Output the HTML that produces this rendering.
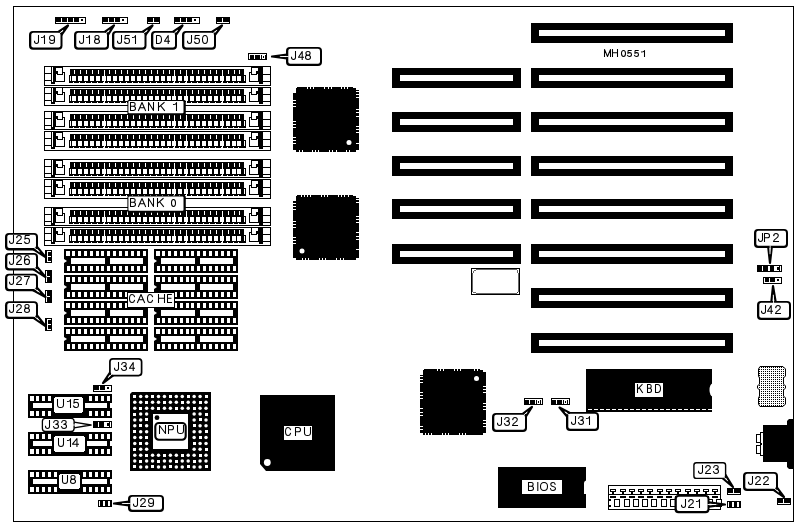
<!DOCTYPE html>
<html><head><meta charset="utf-8"><title>MH0551</title>
<style>
html,body{margin:0;padding:0;background:#fff;}
svg{display:block;}
text{font-family:"Liberation Sans",sans-serif;fill:#000;}
rect{shape-rendering:crispEdges;}
</style></head><body>
<svg width="799" height="527" viewBox="0 0 799 527">
<defs><pattern id="dots" x="0" y="0" width="2" height="2" patternUnits="userSpaceOnUse"><rect x="0" y="0" width="2" height="2" fill="#fff"/><rect x="1" y="1" width="1" height="1" fill="#000"/></pattern></defs>
<rect x="0" y="0" width="799" height="527" fill="#fff"/>
<rect x="13.5" y="6.5" width="780" height="515" fill="none" stroke="#000" stroke-width="1"/>
<rect x="55" y="17" width="31" height="7" fill="#000" />
<rect x="56" y="22" width="29" height="1" fill="#fff" />
<rect x="61" y="18" width="1" height="4" fill="#fff" />
<rect x="67" y="18" width="1" height="4" fill="#fff" />
<rect x="73" y="18" width="1" height="4" fill="#fff" />
<rect x="79" y="18" width="1" height="4" fill="#fff" />
<rect x="80" y="18" width="5" height="4" fill="#fff" />
<rect x="81" y="19" width="2" height="2" fill="#000" />
<rect x="102" y="17" width="26" height="7" fill="#000" />
<rect x="103" y="22" width="24" height="1" fill="#fff" />
<rect x="108" y="18" width="1" height="4" fill="#fff" />
<rect x="114" y="18" width="1" height="4" fill="#fff" />
<rect x="120" y="18" width="1" height="4" fill="#fff" />
<rect x="121" y="18" width="6" height="4" fill="#fff" />
<rect x="122" y="19" width="2" height="2" fill="#000" />
<rect x="147" y="17" width="13" height="7" fill="#000" />
<rect x="148" y="22" width="11" height="1" fill="#fff" />
<rect x="153" y="18" width="1" height="4" fill="#fff" />
<rect x="174" y="17" width="26" height="7" fill="#000" />
<rect x="175" y="22" width="24" height="1" fill="#fff" />
<rect x="180" y="18" width="1" height="4" fill="#fff" />
<rect x="186" y="18" width="1" height="4" fill="#fff" />
<rect x="192" y="18" width="1" height="4" fill="#fff" />
<rect x="193" y="18" width="6" height="4" fill="#fff" />
<rect x="194" y="19" width="2" height="2" fill="#000" />
<rect x="216" y="17" width="14" height="7" fill="#000" />
<rect x="217" y="22" width="12" height="1" fill="#fff" />
<rect x="222" y="18" width="1" height="4" fill="#fff" />
<path d="M57.20,32.63 L68,25.5 L60.80,35.87" fill="#fff" stroke="#000" stroke-width="2.2" stroke-linejoin="round" stroke-linecap="round"/>
<rect x="29" y="31" width="33.5" height="18.7" rx="4" ry="4" fill="#000" style="shape-rendering:auto"/>
<rect x="31.3" y="32.7" width="29.2" height="14.7" rx="2" ry="2" fill="#fff" style="shape-rendering:auto"/>
<path d="M57.6,34.9 L63.0,30.3" fill="none" stroke="#fff" stroke-width="0.9" />
<path transform="translate(34.50,35.50) scale(0.9524,0.8889)" d="M4.2,0 L4.2,6.8 Q4.2,9 2.1,9 Q0,9 0,6.6" fill="none" stroke="#000" stroke-width="1.05" vector-effect="non-scaling-stroke" stroke-linecap="square" stroke-linejoin="round"/>
<path transform="translate(41.50,35.50) scale(0.9375,0.8889)" d="M0,2.2 L1.6,2.0 Q3.2,1.6 3.2,0 L3.2,9" fill="none" stroke="#000" stroke-width="1.05" vector-effect="non-scaling-stroke" stroke-linecap="square" stroke-linejoin="round"/>
<path transform="translate(49.50,35.50) scale(1.0000,0.8889)" d="M5,3 Q5,0 2.5,0 Q0,0 0,2.9 Q0,5.7 2.5,5.7 Q5,5.7 5,3 L5,6.3 Q5,9 2.5,9 Q0.5,9 0.2,7.4" fill="none" stroke="#000" stroke-width="1.05" vector-effect="non-scaling-stroke" stroke-linecap="square" stroke-linejoin="round"/>
<path d="M103.70,32.63 L114,25.5 L107.30,35.87" fill="#fff" stroke="#000" stroke-width="2.2" stroke-linejoin="round" stroke-linecap="round"/>
<rect x="74" y="31" width="35" height="18.7" rx="4" ry="4" fill="#000" style="shape-rendering:auto"/>
<rect x="76.3" y="32.7" width="30.7" height="14.7" rx="2" ry="2" fill="#fff" style="shape-rendering:auto"/>
<path d="M104.1,34.8 L109.3,30.3" fill="none" stroke="#fff" stroke-width="0.9" />
<path transform="translate(79.50,35.50) scale(0.9524,0.8889)" d="M4.2,0 L4.2,6.8 Q4.2,9 2.1,9 Q0,9 0,6.6" fill="none" stroke="#000" stroke-width="1.05" vector-effect="non-scaling-stroke" stroke-linecap="square" stroke-linejoin="round"/>
<path transform="translate(86.50,35.50) scale(0.9375,0.8889)" d="M0,2.2 L1.6,2.0 Q3.2,1.6 3.2,0 L3.2,9" fill="none" stroke="#000" stroke-width="1.05" vector-effect="non-scaling-stroke" stroke-linecap="square" stroke-linejoin="round"/>
<path transform="translate(94.50,35.50) scale(1.0000,0.8889)" d="M2.5,4.2 Q0.4,4.2 0.4,2.1 Q0.4,0 2.5,0 Q4.6,0 4.6,2.1 Q4.6,4.2 2.5,4.2 Q0,4.2 0,6.6 Q0,9 2.5,9 Q5,9 5,6.6 Q5,4.2 2.5,4.2" fill="none" stroke="#000" stroke-width="1.05" vector-effect="non-scaling-stroke" stroke-linecap="square" stroke-linejoin="round"/>
<path d="M141.20,32.63 L152.5,25.5 L144.80,35.87" fill="#fff" stroke="#000" stroke-width="2.2" stroke-linejoin="round" stroke-linecap="round"/>
<rect x="112" y="31" width="34.5" height="18.7" rx="4" ry="4" fill="#000" style="shape-rendering:auto"/>
<rect x="114.3" y="32.7" width="30.2" height="14.7" rx="2" ry="2" fill="#fff" style="shape-rendering:auto"/>
<path d="M141.6,34.9 L147.3,30.3" fill="none" stroke="#fff" stroke-width="0.9" />
<path transform="translate(117.50,35.50) scale(0.9524,0.8889)" d="M4.2,0 L4.2,6.8 Q4.2,9 2.1,9 Q0,9 0,6.6" fill="none" stroke="#000" stroke-width="1.05" vector-effect="non-scaling-stroke" stroke-linecap="square" stroke-linejoin="round"/>
<path transform="translate(124.50,35.50) scale(1.0000,0.8889)" d="M4.6,0 L0.8,0 L0.4,4.1 Q1.3,3.2 2.6,3.2 Q5,3.2 5,6 Q5,9 2.5,9 Q0.5,9 0,7.3" fill="none" stroke="#000" stroke-width="1.05" vector-effect="non-scaling-stroke" stroke-linecap="square" stroke-linejoin="round"/>
<path transform="translate(132.50,35.50) scale(0.9375,0.8889)" d="M0,2.2 L1.6,2.0 Q3.2,1.6 3.2,0 L3.2,9" fill="none" stroke="#000" stroke-width="1.05" vector-effect="non-scaling-stroke" stroke-linecap="square" stroke-linejoin="round"/>
<path d="M171.70,32.63 L182.5,25.5 L175.30,35.87" fill="#fff" stroke="#000" stroke-width="2.2" stroke-linejoin="round" stroke-linecap="round"/>
<rect x="151" y="31" width="26" height="18.7" rx="4" ry="4" fill="#000" style="shape-rendering:auto"/>
<rect x="153.3" y="32.7" width="21.7" height="14.7" rx="2" ry="2" fill="#fff" style="shape-rendering:auto"/>
<path d="M172.2,35.1 L177.6,30.3" fill="none" stroke="#fff" stroke-width="0.9" />
<path transform="translate(156.50,35.50) scale(0.9259,0.8889)" d="M0,0 L0,9 L2.2,9 Q5.4,9 5.4,4.5 Q5.4,0 2.2,0 Z" fill="none" stroke="#000" stroke-width="1.05" vector-effect="non-scaling-stroke" stroke-linecap="square" stroke-linejoin="round"/>
<path transform="translate(164.50,35.50) scale(0.9259,0.8889)" d="M4,9 L4,0 L0,6.4 L5.4,6.4" fill="none" stroke="#000" stroke-width="1.05" vector-effect="non-scaling-stroke" stroke-linecap="square" stroke-linejoin="round"/>
<path d="M210.70,32.63 L222,25.5 L214.30,35.87" fill="#fff" stroke="#000" stroke-width="2.2" stroke-linejoin="round" stroke-linecap="round"/>
<rect x="182" y="31" width="34" height="18.7" rx="4" ry="4" fill="#000" style="shape-rendering:auto"/>
<rect x="184.3" y="32.7" width="29.7" height="14.7" rx="2" ry="2" fill="#fff" style="shape-rendering:auto"/>
<path d="M211.1,34.9 L216.8,30.3" fill="none" stroke="#fff" stroke-width="0.9" />
<path transform="translate(187.50,35.50) scale(0.9524,0.8889)" d="M4.2,0 L4.2,6.8 Q4.2,9 2.1,9 Q0,9 0,6.6" fill="none" stroke="#000" stroke-width="1.05" vector-effect="non-scaling-stroke" stroke-linecap="square" stroke-linejoin="round"/>
<path transform="translate(194.50,35.50) scale(1.0000,0.8889)" d="M4.6,0 L0.8,0 L0.4,4.1 Q1.3,3.2 2.6,3.2 Q5,3.2 5,6 Q5,9 2.5,9 Q0.5,9 0,7.3" fill="none" stroke="#000" stroke-width="1.05" vector-effect="non-scaling-stroke" stroke-linecap="square" stroke-linejoin="round"/>
<path transform="translate(202.50,35.50) scale(1.0000,0.8889)" d="M2.5,0 Q5,0 5,4.5 Q5,9 2.5,9 Q0,9 0,4.5 Q0,0 2.5,0 Z" fill="none" stroke="#000" stroke-width="1.05" vector-effect="non-scaling-stroke" stroke-linecap="square" stroke-linejoin="round"/>
<rect x="248" y="53" width="19" height="7" fill="#000" />
<rect x="249" y="54" width="17" height="1" fill="#fff" />
<rect x="249" y="54" width="1" height="5" fill="#fff" />
<rect x="254" y="55" width="1" height="4" fill="#fff" />
<rect x="260" y="55" width="1" height="4" fill="#fff" />
<rect x="262" y="55" width="3" height="4" fill="#fff" />
<rect x="263" y="56" width="1" height="2" fill="#000" />
<path d="M287.00,54.70 L272,56.5 L287.00,58.30" fill="#fff" stroke="#000" stroke-width="2.2" stroke-linejoin="round" stroke-linecap="round"/>
<rect x="286" y="47" width="36" height="19" rx="4" ry="4" fill="#000" style="shape-rendering:auto"/>
<rect x="288.3" y="48.7" width="31.7" height="15" rx="2" ry="2" fill="#fff" style="shape-rendering:auto"/>
<path d="M288.5,56.5 L280.2,56.5" fill="none" stroke="#fff" stroke-width="0.9" />
<path transform="translate(291.50,51.50) scale(0.9524,0.8889)" d="M4.2,0 L4.2,6.8 Q4.2,9 2.1,9 Q0,9 0,6.6" fill="none" stroke="#000" stroke-width="1.05" vector-effect="non-scaling-stroke" stroke-linecap="square" stroke-linejoin="round"/>
<path transform="translate(298.50,51.50) scale(0.9259,0.8889)" d="M4,9 L4,0 L0,6.4 L5.4,6.4" fill="none" stroke="#000" stroke-width="1.05" vector-effect="non-scaling-stroke" stroke-linecap="square" stroke-linejoin="round"/>
<path transform="translate(305.50,51.50) scale(1.0000,0.8889)" d="M2.5,4.2 Q0.4,4.2 0.4,2.1 Q0.4,0 2.5,0 Q4.6,0 4.6,2.1 Q4.6,4.2 2.5,4.2 Q0,4.2 0,6.6 Q0,9 2.5,9 Q5,9 5,6.6 Q5,4.2 2.5,4.2" fill="none" stroke="#000" stroke-width="1.05" vector-effect="non-scaling-stroke" stroke-linecap="square" stroke-linejoin="round"/>
<rect x="44" y="66" width="227" height="20" fill="#000" />
<rect x="45" y="67" width="225" height="18" fill="#fff" />
<rect x="51" y="66" width="1" height="18" fill="#000" />
<rect x="44" y="73" width="8" height="1" fill="#000" />
<rect x="44" y="80" width="8" height="1" fill="#000" />
<rect x="53" y="66" width="2" height="17" fill="#000" />
<rect x="51" y="82" width="4" height="2" fill="#000" />
<rect x="55" y="67" width="8" height="1" fill="#000" />
<rect x="62" y="67" width="1" height="8" fill="#000" />
<rect x="55" y="67" width="1" height="15" fill="#000" />
<rect x="55" y="81" width="10" height="1" fill="#000" />
<rect x="64" y="72" width="1" height="10" fill="#000" />
<rect x="62" y="72" width="3" height="1" fill="#000" />
<rect x="55" y="71" width="3" height="3" fill="#000" />
<rect x="57" y="74" width="6" height="1" fill="#000" />
<rect x="262" y="66" width="1" height="18" fill="#000" />
<rect x="262" y="74" width="8" height="1" fill="#000" />
<rect x="262" y="81" width="8" height="1" fill="#000" />
<rect x="259" y="66" width="3" height="18" fill="#000" />
<rect x="251" y="67" width="8" height="1" fill="#000" />
<rect x="251" y="67" width="1" height="8" fill="#000" />
<rect x="258" y="67" width="1" height="15" fill="#000" />
<rect x="249" y="81" width="10" height="1" fill="#000" />
<rect x="249" y="72" width="1" height="10" fill="#000" />
<rect x="249" y="72" width="3" height="1" fill="#000" />
<rect x="256" y="71" width="3" height="3" fill="#000" />
<rect x="251" y="74" width="6" height="1" fill="#000" />
<rect x="70" y="69" width="174" height="7" fill="#000" />
<rect x="69" y="75" width="177" height="8" fill="#000" />
<rect x="70" y="76" width="1" height="5" fill="#fff" />
<rect x="244" y="76" width="1" height="5" fill="#fff" />
<rect x="72" y="76" width="4" height="5" fill="#fff" />
<rect x="74" y="70" width="1" height="4" fill="#fff" />
<rect x="73" y="82" width="1" height="1" fill="#fff" />
<rect x="78" y="76" width="4" height="5" fill="#fff" />
<rect x="80" y="70" width="1" height="4" fill="#fff" />
<rect x="79" y="82" width="1" height="1" fill="#fff" />
<rect x="84" y="76" width="4" height="5" fill="#fff" />
<rect x="86" y="70" width="1" height="4" fill="#fff" />
<rect x="85" y="82" width="1" height="1" fill="#fff" />
<rect x="90" y="76" width="4" height="5" fill="#fff" />
<rect x="92" y="70" width="1" height="4" fill="#fff" />
<rect x="91" y="82" width="1" height="1" fill="#fff" />
<rect x="96" y="76" width="4" height="5" fill="#fff" />
<rect x="98" y="70" width="1" height="4" fill="#fff" />
<rect x="97" y="82" width="1" height="1" fill="#fff" />
<rect x="102" y="76" width="4" height="5" fill="#fff" />
<rect x="104" y="70" width="1" height="4" fill="#fff" />
<rect x="103" y="82" width="1" height="1" fill="#fff" />
<rect x="107" y="76" width="4" height="5" fill="#fff" />
<rect x="109" y="70" width="1" height="4" fill="#fff" />
<rect x="108" y="82" width="1" height="1" fill="#fff" />
<rect x="113" y="76" width="4" height="5" fill="#fff" />
<rect x="115" y="70" width="1" height="4" fill="#fff" />
<rect x="114" y="82" width="1" height="1" fill="#fff" />
<rect x="119" y="76" width="4" height="5" fill="#fff" />
<rect x="121" y="70" width="1" height="4" fill="#fff" />
<rect x="120" y="82" width="1" height="1" fill="#fff" />
<rect x="125" y="76" width="4" height="5" fill="#fff" />
<rect x="127" y="70" width="1" height="4" fill="#fff" />
<rect x="126" y="82" width="1" height="1" fill="#fff" />
<rect x="131" y="76" width="4" height="5" fill="#fff" />
<rect x="133" y="70" width="1" height="4" fill="#fff" />
<rect x="132" y="82" width="1" height="1" fill="#fff" />
<rect x="137" y="76" width="4" height="5" fill="#fff" />
<rect x="139" y="70" width="1" height="4" fill="#fff" />
<rect x="138" y="82" width="1" height="1" fill="#fff" />
<rect x="143" y="76" width="4" height="5" fill="#fff" />
<rect x="145" y="70" width="1" height="4" fill="#fff" />
<rect x="144" y="82" width="1" height="1" fill="#fff" />
<rect x="149" y="76" width="4" height="5" fill="#fff" />
<rect x="151" y="70" width="1" height="4" fill="#fff" />
<rect x="150" y="82" width="1" height="1" fill="#fff" />
<rect x="155" y="76" width="4" height="5" fill="#fff" />
<rect x="157" y="70" width="1" height="4" fill="#fff" />
<rect x="156" y="82" width="1" height="1" fill="#fff" />
<rect x="161" y="76" width="4" height="5" fill="#fff" />
<rect x="163" y="70" width="1" height="4" fill="#fff" />
<rect x="162" y="82" width="1" height="1" fill="#fff" />
<rect x="167" y="76" width="4" height="5" fill="#fff" />
<rect x="169" y="70" width="1" height="4" fill="#fff" />
<rect x="168" y="82" width="1" height="1" fill="#fff" />
<rect x="172" y="76" width="4" height="5" fill="#fff" />
<rect x="174" y="70" width="1" height="4" fill="#fff" />
<rect x="173" y="82" width="1" height="1" fill="#fff" />
<rect x="178" y="76" width="4" height="5" fill="#fff" />
<rect x="180" y="70" width="1" height="4" fill="#fff" />
<rect x="179" y="82" width="1" height="1" fill="#fff" />
<rect x="184" y="76" width="4" height="5" fill="#fff" />
<rect x="186" y="70" width="1" height="4" fill="#fff" />
<rect x="185" y="82" width="1" height="1" fill="#fff" />
<rect x="190" y="76" width="4" height="5" fill="#fff" />
<rect x="192" y="70" width="1" height="4" fill="#fff" />
<rect x="191" y="82" width="1" height="1" fill="#fff" />
<rect x="196" y="76" width="4" height="5" fill="#fff" />
<rect x="198" y="70" width="1" height="4" fill="#fff" />
<rect x="197" y="82" width="1" height="1" fill="#fff" />
<rect x="202" y="76" width="4" height="5" fill="#fff" />
<rect x="204" y="70" width="1" height="4" fill="#fff" />
<rect x="203" y="82" width="1" height="1" fill="#fff" />
<rect x="208" y="76" width="4" height="5" fill="#fff" />
<rect x="210" y="70" width="1" height="4" fill="#fff" />
<rect x="209" y="82" width="1" height="1" fill="#fff" />
<rect x="214" y="76" width="4" height="5" fill="#fff" />
<rect x="216" y="70" width="1" height="4" fill="#fff" />
<rect x="215" y="82" width="1" height="1" fill="#fff" />
<rect x="220" y="76" width="4" height="5" fill="#fff" />
<rect x="222" y="70" width="1" height="4" fill="#fff" />
<rect x="221" y="82" width="1" height="1" fill="#fff" />
<rect x="226" y="76" width="4" height="5" fill="#fff" />
<rect x="228" y="70" width="1" height="4" fill="#fff" />
<rect x="227" y="82" width="1" height="1" fill="#fff" />
<rect x="232" y="76" width="4" height="5" fill="#fff" />
<rect x="234" y="70" width="1" height="4" fill="#fff" />
<rect x="233" y="82" width="1" height="1" fill="#fff" />
<rect x="237" y="76" width="4" height="5" fill="#fff" />
<rect x="239" y="70" width="1" height="4" fill="#fff" />
<rect x="238" y="82" width="1" height="1" fill="#fff" />
<rect x="104" y="74" width="1" height="3" fill="#fff" />
<rect x="104" y="81" width="1" height="2" fill="#fff" />
<rect x="174" y="74" width="1" height="3" fill="#fff" />
<rect x="174" y="81" width="1" height="2" fill="#fff" />
<rect x="186" y="74" width="1" height="3" fill="#fff" />
<rect x="186" y="81" width="1" height="2" fill="#fff" />
<rect x="222" y="74" width="1" height="3" fill="#fff" />
<rect x="222" y="81" width="1" height="2" fill="#fff" />
<rect x="44" y="87" width="227" height="19" fill="#000" />
<rect x="45" y="88" width="225" height="17" fill="#fff" />
<rect x="51" y="87" width="1" height="17" fill="#000" />
<rect x="44" y="93" width="8" height="1" fill="#000" />
<rect x="44" y="100" width="8" height="1" fill="#000" />
<rect x="53" y="87" width="2" height="16" fill="#000" />
<rect x="51" y="102" width="4" height="2" fill="#000" />
<rect x="55" y="87" width="8" height="1" fill="#000" />
<rect x="62" y="87" width="1" height="8" fill="#000" />
<rect x="55" y="87" width="1" height="15" fill="#000" />
<rect x="55" y="101" width="10" height="1" fill="#000" />
<rect x="64" y="92" width="1" height="10" fill="#000" />
<rect x="62" y="92" width="3" height="1" fill="#000" />
<rect x="55" y="91" width="3" height="3" fill="#000" />
<rect x="57" y="94" width="6" height="1" fill="#000" />
<rect x="262" y="87" width="1" height="17" fill="#000" />
<rect x="262" y="94" width="8" height="1" fill="#000" />
<rect x="262" y="101" width="8" height="1" fill="#000" />
<rect x="259" y="87" width="3" height="17" fill="#000" />
<rect x="251" y="87" width="8" height="1" fill="#000" />
<rect x="251" y="87" width="1" height="8" fill="#000" />
<rect x="258" y="87" width="1" height="15" fill="#000" />
<rect x="249" y="101" width="10" height="1" fill="#000" />
<rect x="249" y="92" width="1" height="10" fill="#000" />
<rect x="249" y="92" width="3" height="1" fill="#000" />
<rect x="256" y="91" width="3" height="3" fill="#000" />
<rect x="251" y="94" width="6" height="1" fill="#000" />
<rect x="70" y="89" width="174" height="7" fill="#000" />
<rect x="69" y="95" width="177" height="8" fill="#000" />
<rect x="70" y="96" width="1" height="5" fill="#fff" />
<rect x="244" y="96" width="1" height="5" fill="#fff" />
<rect x="72" y="96" width="4" height="5" fill="#fff" />
<rect x="74" y="90" width="1" height="4" fill="#fff" />
<rect x="73" y="102" width="1" height="1" fill="#fff" />
<rect x="78" y="96" width="4" height="5" fill="#fff" />
<rect x="80" y="90" width="1" height="4" fill="#fff" />
<rect x="79" y="102" width="1" height="1" fill="#fff" />
<rect x="84" y="96" width="4" height="5" fill="#fff" />
<rect x="86" y="90" width="1" height="4" fill="#fff" />
<rect x="85" y="102" width="1" height="1" fill="#fff" />
<rect x="90" y="96" width="4" height="5" fill="#fff" />
<rect x="92" y="90" width="1" height="4" fill="#fff" />
<rect x="91" y="102" width="1" height="1" fill="#fff" />
<rect x="96" y="96" width="4" height="5" fill="#fff" />
<rect x="98" y="90" width="1" height="4" fill="#fff" />
<rect x="97" y="102" width="1" height="1" fill="#fff" />
<rect x="102" y="96" width="4" height="5" fill="#fff" />
<rect x="104" y="90" width="1" height="4" fill="#fff" />
<rect x="103" y="102" width="1" height="1" fill="#fff" />
<rect x="107" y="96" width="4" height="5" fill="#fff" />
<rect x="109" y="90" width="1" height="4" fill="#fff" />
<rect x="108" y="102" width="1" height="1" fill="#fff" />
<rect x="113" y="96" width="4" height="5" fill="#fff" />
<rect x="115" y="90" width="1" height="4" fill="#fff" />
<rect x="114" y="102" width="1" height="1" fill="#fff" />
<rect x="119" y="96" width="4" height="5" fill="#fff" />
<rect x="121" y="90" width="1" height="4" fill="#fff" />
<rect x="120" y="102" width="1" height="1" fill="#fff" />
<rect x="125" y="96" width="4" height="5" fill="#fff" />
<rect x="127" y="90" width="1" height="4" fill="#fff" />
<rect x="126" y="102" width="1" height="1" fill="#fff" />
<rect x="131" y="96" width="4" height="5" fill="#fff" />
<rect x="133" y="90" width="1" height="4" fill="#fff" />
<rect x="132" y="102" width="1" height="1" fill="#fff" />
<rect x="137" y="96" width="4" height="5" fill="#fff" />
<rect x="139" y="90" width="1" height="4" fill="#fff" />
<rect x="138" y="102" width="1" height="1" fill="#fff" />
<rect x="143" y="96" width="4" height="5" fill="#fff" />
<rect x="145" y="90" width="1" height="4" fill="#fff" />
<rect x="144" y="102" width="1" height="1" fill="#fff" />
<rect x="149" y="96" width="4" height="5" fill="#fff" />
<rect x="151" y="90" width="1" height="4" fill="#fff" />
<rect x="150" y="102" width="1" height="1" fill="#fff" />
<rect x="155" y="96" width="4" height="5" fill="#fff" />
<rect x="157" y="90" width="1" height="4" fill="#fff" />
<rect x="156" y="102" width="1" height="1" fill="#fff" />
<rect x="161" y="96" width="4" height="5" fill="#fff" />
<rect x="163" y="90" width="1" height="4" fill="#fff" />
<rect x="162" y="102" width="1" height="1" fill="#fff" />
<rect x="167" y="96" width="4" height="5" fill="#fff" />
<rect x="169" y="90" width="1" height="4" fill="#fff" />
<rect x="168" y="102" width="1" height="1" fill="#fff" />
<rect x="172" y="96" width="4" height="5" fill="#fff" />
<rect x="174" y="90" width="1" height="4" fill="#fff" />
<rect x="173" y="102" width="1" height="1" fill="#fff" />
<rect x="178" y="96" width="4" height="5" fill="#fff" />
<rect x="180" y="90" width="1" height="4" fill="#fff" />
<rect x="179" y="102" width="1" height="1" fill="#fff" />
<rect x="184" y="96" width="4" height="5" fill="#fff" />
<rect x="186" y="90" width="1" height="4" fill="#fff" />
<rect x="185" y="102" width="1" height="1" fill="#fff" />
<rect x="190" y="96" width="4" height="5" fill="#fff" />
<rect x="192" y="90" width="1" height="4" fill="#fff" />
<rect x="191" y="102" width="1" height="1" fill="#fff" />
<rect x="196" y="96" width="4" height="5" fill="#fff" />
<rect x="198" y="90" width="1" height="4" fill="#fff" />
<rect x="197" y="102" width="1" height="1" fill="#fff" />
<rect x="202" y="96" width="4" height="5" fill="#fff" />
<rect x="204" y="90" width="1" height="4" fill="#fff" />
<rect x="203" y="102" width="1" height="1" fill="#fff" />
<rect x="208" y="96" width="4" height="5" fill="#fff" />
<rect x="210" y="90" width="1" height="4" fill="#fff" />
<rect x="209" y="102" width="1" height="1" fill="#fff" />
<rect x="214" y="96" width="4" height="5" fill="#fff" />
<rect x="216" y="90" width="1" height="4" fill="#fff" />
<rect x="215" y="102" width="1" height="1" fill="#fff" />
<rect x="220" y="96" width="4" height="5" fill="#fff" />
<rect x="222" y="90" width="1" height="4" fill="#fff" />
<rect x="221" y="102" width="1" height="1" fill="#fff" />
<rect x="226" y="96" width="4" height="5" fill="#fff" />
<rect x="228" y="90" width="1" height="4" fill="#fff" />
<rect x="227" y="102" width="1" height="1" fill="#fff" />
<rect x="232" y="96" width="4" height="5" fill="#fff" />
<rect x="234" y="90" width="1" height="4" fill="#fff" />
<rect x="233" y="102" width="1" height="1" fill="#fff" />
<rect x="237" y="96" width="4" height="5" fill="#fff" />
<rect x="239" y="90" width="1" height="4" fill="#fff" />
<rect x="238" y="102" width="1" height="1" fill="#fff" />
<rect x="104" y="94" width="1" height="3" fill="#fff" />
<rect x="104" y="101" width="1" height="2" fill="#fff" />
<rect x="174" y="94" width="1" height="3" fill="#fff" />
<rect x="174" y="101" width="1" height="2" fill="#fff" />
<rect x="186" y="94" width="1" height="3" fill="#fff" />
<rect x="186" y="101" width="1" height="2" fill="#fff" />
<rect x="222" y="94" width="1" height="3" fill="#fff" />
<rect x="222" y="101" width="1" height="2" fill="#fff" />
<rect x="44" y="111" width="227" height="19" fill="#000" />
<rect x="45" y="112" width="225" height="17" fill="#fff" />
<rect x="51" y="111" width="1" height="18" fill="#000" />
<rect x="44" y="118" width="8" height="1" fill="#000" />
<rect x="44" y="125" width="8" height="1" fill="#000" />
<rect x="53" y="111" width="2" height="17" fill="#000" />
<rect x="51" y="127" width="4" height="2" fill="#000" />
<rect x="55" y="112" width="8" height="1" fill="#000" />
<rect x="62" y="112" width="1" height="8" fill="#000" />
<rect x="55" y="112" width="1" height="15" fill="#000" />
<rect x="55" y="126" width="10" height="1" fill="#000" />
<rect x="64" y="117" width="1" height="10" fill="#000" />
<rect x="62" y="117" width="3" height="1" fill="#000" />
<rect x="55" y="116" width="3" height="3" fill="#000" />
<rect x="57" y="119" width="6" height="1" fill="#000" />
<rect x="262" y="111" width="1" height="18" fill="#000" />
<rect x="262" y="119" width="8" height="1" fill="#000" />
<rect x="262" y="126" width="8" height="1" fill="#000" />
<rect x="259" y="111" width="3" height="18" fill="#000" />
<rect x="251" y="112" width="8" height="1" fill="#000" />
<rect x="251" y="112" width="1" height="8" fill="#000" />
<rect x="258" y="112" width="1" height="15" fill="#000" />
<rect x="249" y="126" width="10" height="1" fill="#000" />
<rect x="249" y="117" width="1" height="10" fill="#000" />
<rect x="249" y="117" width="3" height="1" fill="#000" />
<rect x="256" y="116" width="3" height="3" fill="#000" />
<rect x="251" y="119" width="6" height="1" fill="#000" />
<rect x="70" y="114" width="174" height="7" fill="#000" />
<rect x="69" y="120" width="177" height="8" fill="#000" />
<rect x="70" y="121" width="1" height="5" fill="#fff" />
<rect x="244" y="121" width="1" height="5" fill="#fff" />
<rect x="72" y="121" width="4" height="5" fill="#fff" />
<rect x="74" y="115" width="1" height="4" fill="#fff" />
<rect x="73" y="127" width="1" height="1" fill="#fff" />
<rect x="78" y="121" width="4" height="5" fill="#fff" />
<rect x="80" y="115" width="1" height="4" fill="#fff" />
<rect x="79" y="127" width="1" height="1" fill="#fff" />
<rect x="84" y="121" width="4" height="5" fill="#fff" />
<rect x="86" y="115" width="1" height="4" fill="#fff" />
<rect x="85" y="127" width="1" height="1" fill="#fff" />
<rect x="90" y="121" width="4" height="5" fill="#fff" />
<rect x="92" y="115" width="1" height="4" fill="#fff" />
<rect x="91" y="127" width="1" height="1" fill="#fff" />
<rect x="96" y="121" width="4" height="5" fill="#fff" />
<rect x="98" y="115" width="1" height="4" fill="#fff" />
<rect x="97" y="127" width="1" height="1" fill="#fff" />
<rect x="102" y="121" width="4" height="5" fill="#fff" />
<rect x="104" y="115" width="1" height="4" fill="#fff" />
<rect x="103" y="127" width="1" height="1" fill="#fff" />
<rect x="107" y="121" width="4" height="5" fill="#fff" />
<rect x="109" y="115" width="1" height="4" fill="#fff" />
<rect x="108" y="127" width="1" height="1" fill="#fff" />
<rect x="113" y="121" width="4" height="5" fill="#fff" />
<rect x="115" y="115" width="1" height="4" fill="#fff" />
<rect x="114" y="127" width="1" height="1" fill="#fff" />
<rect x="119" y="121" width="4" height="5" fill="#fff" />
<rect x="121" y="115" width="1" height="4" fill="#fff" />
<rect x="120" y="127" width="1" height="1" fill="#fff" />
<rect x="125" y="121" width="4" height="5" fill="#fff" />
<rect x="127" y="115" width="1" height="4" fill="#fff" />
<rect x="126" y="127" width="1" height="1" fill="#fff" />
<rect x="131" y="121" width="4" height="5" fill="#fff" />
<rect x="133" y="115" width="1" height="4" fill="#fff" />
<rect x="132" y="127" width="1" height="1" fill="#fff" />
<rect x="137" y="121" width="4" height="5" fill="#fff" />
<rect x="139" y="115" width="1" height="4" fill="#fff" />
<rect x="138" y="127" width="1" height="1" fill="#fff" />
<rect x="143" y="121" width="4" height="5" fill="#fff" />
<rect x="145" y="115" width="1" height="4" fill="#fff" />
<rect x="144" y="127" width="1" height="1" fill="#fff" />
<rect x="149" y="121" width="4" height="5" fill="#fff" />
<rect x="151" y="115" width="1" height="4" fill="#fff" />
<rect x="150" y="127" width="1" height="1" fill="#fff" />
<rect x="155" y="121" width="4" height="5" fill="#fff" />
<rect x="157" y="115" width="1" height="4" fill="#fff" />
<rect x="156" y="127" width="1" height="1" fill="#fff" />
<rect x="161" y="121" width="4" height="5" fill="#fff" />
<rect x="163" y="115" width="1" height="4" fill="#fff" />
<rect x="162" y="127" width="1" height="1" fill="#fff" />
<rect x="167" y="121" width="4" height="5" fill="#fff" />
<rect x="169" y="115" width="1" height="4" fill="#fff" />
<rect x="168" y="127" width="1" height="1" fill="#fff" />
<rect x="172" y="121" width="4" height="5" fill="#fff" />
<rect x="174" y="115" width="1" height="4" fill="#fff" />
<rect x="173" y="127" width="1" height="1" fill="#fff" />
<rect x="178" y="121" width="4" height="5" fill="#fff" />
<rect x="180" y="115" width="1" height="4" fill="#fff" />
<rect x="179" y="127" width="1" height="1" fill="#fff" />
<rect x="184" y="121" width="4" height="5" fill="#fff" />
<rect x="186" y="115" width="1" height="4" fill="#fff" />
<rect x="185" y="127" width="1" height="1" fill="#fff" />
<rect x="190" y="121" width="4" height="5" fill="#fff" />
<rect x="192" y="115" width="1" height="4" fill="#fff" />
<rect x="191" y="127" width="1" height="1" fill="#fff" />
<rect x="196" y="121" width="4" height="5" fill="#fff" />
<rect x="198" y="115" width="1" height="4" fill="#fff" />
<rect x="197" y="127" width="1" height="1" fill="#fff" />
<rect x="202" y="121" width="4" height="5" fill="#fff" />
<rect x="204" y="115" width="1" height="4" fill="#fff" />
<rect x="203" y="127" width="1" height="1" fill="#fff" />
<rect x="208" y="121" width="4" height="5" fill="#fff" />
<rect x="210" y="115" width="1" height="4" fill="#fff" />
<rect x="209" y="127" width="1" height="1" fill="#fff" />
<rect x="214" y="121" width="4" height="5" fill="#fff" />
<rect x="216" y="115" width="1" height="4" fill="#fff" />
<rect x="215" y="127" width="1" height="1" fill="#fff" />
<rect x="220" y="121" width="4" height="5" fill="#fff" />
<rect x="222" y="115" width="1" height="4" fill="#fff" />
<rect x="221" y="127" width="1" height="1" fill="#fff" />
<rect x="226" y="121" width="4" height="5" fill="#fff" />
<rect x="228" y="115" width="1" height="4" fill="#fff" />
<rect x="227" y="127" width="1" height="1" fill="#fff" />
<rect x="232" y="121" width="4" height="5" fill="#fff" />
<rect x="234" y="115" width="1" height="4" fill="#fff" />
<rect x="233" y="127" width="1" height="1" fill="#fff" />
<rect x="237" y="121" width="4" height="5" fill="#fff" />
<rect x="239" y="115" width="1" height="4" fill="#fff" />
<rect x="238" y="127" width="1" height="1" fill="#fff" />
<rect x="104" y="119" width="1" height="3" fill="#fff" />
<rect x="104" y="126" width="1" height="2" fill="#fff" />
<rect x="174" y="119" width="1" height="3" fill="#fff" />
<rect x="174" y="126" width="1" height="2" fill="#fff" />
<rect x="186" y="119" width="1" height="3" fill="#fff" />
<rect x="186" y="126" width="1" height="2" fill="#fff" />
<rect x="222" y="119" width="1" height="3" fill="#fff" />
<rect x="222" y="126" width="1" height="2" fill="#fff" />
<rect x="44" y="131" width="227" height="20" fill="#000" />
<rect x="45" y="132" width="225" height="18" fill="#fff" />
<rect x="51" y="131" width="1" height="18" fill="#000" />
<rect x="44" y="138" width="8" height="1" fill="#000" />
<rect x="44" y="145" width="8" height="1" fill="#000" />
<rect x="53" y="131" width="2" height="17" fill="#000" />
<rect x="51" y="147" width="4" height="2" fill="#000" />
<rect x="55" y="132" width="8" height="1" fill="#000" />
<rect x="62" y="132" width="1" height="8" fill="#000" />
<rect x="55" y="132" width="1" height="15" fill="#000" />
<rect x="55" y="146" width="10" height="1" fill="#000" />
<rect x="64" y="137" width="1" height="10" fill="#000" />
<rect x="62" y="137" width="3" height="1" fill="#000" />
<rect x="55" y="136" width="3" height="3" fill="#000" />
<rect x="57" y="139" width="6" height="1" fill="#000" />
<rect x="262" y="131" width="1" height="18" fill="#000" />
<rect x="262" y="139" width="8" height="1" fill="#000" />
<rect x="262" y="146" width="8" height="1" fill="#000" />
<rect x="259" y="131" width="3" height="18" fill="#000" />
<rect x="251" y="132" width="8" height="1" fill="#000" />
<rect x="251" y="132" width="1" height="8" fill="#000" />
<rect x="258" y="132" width="1" height="15" fill="#000" />
<rect x="249" y="146" width="10" height="1" fill="#000" />
<rect x="249" y="137" width="1" height="10" fill="#000" />
<rect x="249" y="137" width="3" height="1" fill="#000" />
<rect x="256" y="136" width="3" height="3" fill="#000" />
<rect x="251" y="139" width="6" height="1" fill="#000" />
<rect x="70" y="134" width="174" height="7" fill="#000" />
<rect x="69" y="140" width="177" height="8" fill="#000" />
<rect x="70" y="141" width="1" height="5" fill="#fff" />
<rect x="244" y="141" width="1" height="5" fill="#fff" />
<rect x="72" y="141" width="4" height="5" fill="#fff" />
<rect x="74" y="135" width="1" height="4" fill="#fff" />
<rect x="73" y="147" width="1" height="1" fill="#fff" />
<rect x="78" y="141" width="4" height="5" fill="#fff" />
<rect x="80" y="135" width="1" height="4" fill="#fff" />
<rect x="79" y="147" width="1" height="1" fill="#fff" />
<rect x="84" y="141" width="4" height="5" fill="#fff" />
<rect x="86" y="135" width="1" height="4" fill="#fff" />
<rect x="85" y="147" width="1" height="1" fill="#fff" />
<rect x="90" y="141" width="4" height="5" fill="#fff" />
<rect x="92" y="135" width="1" height="4" fill="#fff" />
<rect x="91" y="147" width="1" height="1" fill="#fff" />
<rect x="96" y="141" width="4" height="5" fill="#fff" />
<rect x="98" y="135" width="1" height="4" fill="#fff" />
<rect x="97" y="147" width="1" height="1" fill="#fff" />
<rect x="102" y="141" width="4" height="5" fill="#fff" />
<rect x="104" y="135" width="1" height="4" fill="#fff" />
<rect x="103" y="147" width="1" height="1" fill="#fff" />
<rect x="107" y="141" width="4" height="5" fill="#fff" />
<rect x="109" y="135" width="1" height="4" fill="#fff" />
<rect x="108" y="147" width="1" height="1" fill="#fff" />
<rect x="113" y="141" width="4" height="5" fill="#fff" />
<rect x="115" y="135" width="1" height="4" fill="#fff" />
<rect x="114" y="147" width="1" height="1" fill="#fff" />
<rect x="119" y="141" width="4" height="5" fill="#fff" />
<rect x="121" y="135" width="1" height="4" fill="#fff" />
<rect x="120" y="147" width="1" height="1" fill="#fff" />
<rect x="125" y="141" width="4" height="5" fill="#fff" />
<rect x="127" y="135" width="1" height="4" fill="#fff" />
<rect x="126" y="147" width="1" height="1" fill="#fff" />
<rect x="131" y="141" width="4" height="5" fill="#fff" />
<rect x="133" y="135" width="1" height="4" fill="#fff" />
<rect x="132" y="147" width="1" height="1" fill="#fff" />
<rect x="137" y="141" width="4" height="5" fill="#fff" />
<rect x="139" y="135" width="1" height="4" fill="#fff" />
<rect x="138" y="147" width="1" height="1" fill="#fff" />
<rect x="143" y="141" width="4" height="5" fill="#fff" />
<rect x="145" y="135" width="1" height="4" fill="#fff" />
<rect x="144" y="147" width="1" height="1" fill="#fff" />
<rect x="149" y="141" width="4" height="5" fill="#fff" />
<rect x="151" y="135" width="1" height="4" fill="#fff" />
<rect x="150" y="147" width="1" height="1" fill="#fff" />
<rect x="155" y="141" width="4" height="5" fill="#fff" />
<rect x="157" y="135" width="1" height="4" fill="#fff" />
<rect x="156" y="147" width="1" height="1" fill="#fff" />
<rect x="161" y="141" width="4" height="5" fill="#fff" />
<rect x="163" y="135" width="1" height="4" fill="#fff" />
<rect x="162" y="147" width="1" height="1" fill="#fff" />
<rect x="167" y="141" width="4" height="5" fill="#fff" />
<rect x="169" y="135" width="1" height="4" fill="#fff" />
<rect x="168" y="147" width="1" height="1" fill="#fff" />
<rect x="172" y="141" width="4" height="5" fill="#fff" />
<rect x="174" y="135" width="1" height="4" fill="#fff" />
<rect x="173" y="147" width="1" height="1" fill="#fff" />
<rect x="178" y="141" width="4" height="5" fill="#fff" />
<rect x="180" y="135" width="1" height="4" fill="#fff" />
<rect x="179" y="147" width="1" height="1" fill="#fff" />
<rect x="184" y="141" width="4" height="5" fill="#fff" />
<rect x="186" y="135" width="1" height="4" fill="#fff" />
<rect x="185" y="147" width="1" height="1" fill="#fff" />
<rect x="190" y="141" width="4" height="5" fill="#fff" />
<rect x="192" y="135" width="1" height="4" fill="#fff" />
<rect x="191" y="147" width="1" height="1" fill="#fff" />
<rect x="196" y="141" width="4" height="5" fill="#fff" />
<rect x="198" y="135" width="1" height="4" fill="#fff" />
<rect x="197" y="147" width="1" height="1" fill="#fff" />
<rect x="202" y="141" width="4" height="5" fill="#fff" />
<rect x="204" y="135" width="1" height="4" fill="#fff" />
<rect x="203" y="147" width="1" height="1" fill="#fff" />
<rect x="208" y="141" width="4" height="5" fill="#fff" />
<rect x="210" y="135" width="1" height="4" fill="#fff" />
<rect x="209" y="147" width="1" height="1" fill="#fff" />
<rect x="214" y="141" width="4" height="5" fill="#fff" />
<rect x="216" y="135" width="1" height="4" fill="#fff" />
<rect x="215" y="147" width="1" height="1" fill="#fff" />
<rect x="220" y="141" width="4" height="5" fill="#fff" />
<rect x="222" y="135" width="1" height="4" fill="#fff" />
<rect x="221" y="147" width="1" height="1" fill="#fff" />
<rect x="226" y="141" width="4" height="5" fill="#fff" />
<rect x="228" y="135" width="1" height="4" fill="#fff" />
<rect x="227" y="147" width="1" height="1" fill="#fff" />
<rect x="232" y="141" width="4" height="5" fill="#fff" />
<rect x="234" y="135" width="1" height="4" fill="#fff" />
<rect x="233" y="147" width="1" height="1" fill="#fff" />
<rect x="237" y="141" width="4" height="5" fill="#fff" />
<rect x="239" y="135" width="1" height="4" fill="#fff" />
<rect x="238" y="147" width="1" height="1" fill="#fff" />
<rect x="104" y="139" width="1" height="3" fill="#fff" />
<rect x="104" y="146" width="1" height="2" fill="#fff" />
<rect x="174" y="139" width="1" height="3" fill="#fff" />
<rect x="174" y="146" width="1" height="2" fill="#fff" />
<rect x="186" y="139" width="1" height="3" fill="#fff" />
<rect x="186" y="146" width="1" height="2" fill="#fff" />
<rect x="222" y="139" width="1" height="3" fill="#fff" />
<rect x="222" y="146" width="1" height="2" fill="#fff" />
<rect x="44" y="159" width="227" height="19" fill="#000" />
<rect x="45" y="160" width="225" height="17" fill="#fff" />
<rect x="51" y="159" width="1" height="18" fill="#000" />
<rect x="44" y="166" width="8" height="1" fill="#000" />
<rect x="44" y="173" width="8" height="1" fill="#000" />
<rect x="53" y="159" width="2" height="17" fill="#000" />
<rect x="51" y="175" width="4" height="2" fill="#000" />
<rect x="55" y="160" width="8" height="1" fill="#000" />
<rect x="62" y="160" width="1" height="8" fill="#000" />
<rect x="55" y="160" width="1" height="15" fill="#000" />
<rect x="55" y="174" width="10" height="1" fill="#000" />
<rect x="64" y="165" width="1" height="10" fill="#000" />
<rect x="62" y="165" width="3" height="1" fill="#000" />
<rect x="55" y="164" width="3" height="3" fill="#000" />
<rect x="57" y="167" width="6" height="1" fill="#000" />
<rect x="262" y="159" width="1" height="18" fill="#000" />
<rect x="262" y="167" width="8" height="1" fill="#000" />
<rect x="262" y="174" width="8" height="1" fill="#000" />
<rect x="259" y="159" width="3" height="18" fill="#000" />
<rect x="251" y="160" width="8" height="1" fill="#000" />
<rect x="251" y="160" width="1" height="8" fill="#000" />
<rect x="258" y="160" width="1" height="15" fill="#000" />
<rect x="249" y="174" width="10" height="1" fill="#000" />
<rect x="249" y="165" width="1" height="10" fill="#000" />
<rect x="249" y="165" width="3" height="1" fill="#000" />
<rect x="256" y="164" width="3" height="3" fill="#000" />
<rect x="251" y="167" width="6" height="1" fill="#000" />
<rect x="70" y="162" width="174" height="7" fill="#000" />
<rect x="69" y="168" width="177" height="8" fill="#000" />
<rect x="70" y="169" width="1" height="5" fill="#fff" />
<rect x="244" y="169" width="1" height="5" fill="#fff" />
<rect x="72" y="169" width="4" height="5" fill="#fff" />
<rect x="74" y="163" width="1" height="4" fill="#fff" />
<rect x="73" y="175" width="1" height="1" fill="#fff" />
<rect x="78" y="169" width="4" height="5" fill="#fff" />
<rect x="80" y="163" width="1" height="4" fill="#fff" />
<rect x="79" y="175" width="1" height="1" fill="#fff" />
<rect x="84" y="169" width="4" height="5" fill="#fff" />
<rect x="86" y="163" width="1" height="4" fill="#fff" />
<rect x="85" y="175" width="1" height="1" fill="#fff" />
<rect x="90" y="169" width="4" height="5" fill="#fff" />
<rect x="92" y="163" width="1" height="4" fill="#fff" />
<rect x="91" y="175" width="1" height="1" fill="#fff" />
<rect x="96" y="169" width="4" height="5" fill="#fff" />
<rect x="98" y="163" width="1" height="4" fill="#fff" />
<rect x="97" y="175" width="1" height="1" fill="#fff" />
<rect x="102" y="169" width="4" height="5" fill="#fff" />
<rect x="104" y="163" width="1" height="4" fill="#fff" />
<rect x="103" y="175" width="1" height="1" fill="#fff" />
<rect x="107" y="169" width="4" height="5" fill="#fff" />
<rect x="109" y="163" width="1" height="4" fill="#fff" />
<rect x="108" y="175" width="1" height="1" fill="#fff" />
<rect x="113" y="169" width="4" height="5" fill="#fff" />
<rect x="115" y="163" width="1" height="4" fill="#fff" />
<rect x="114" y="175" width="1" height="1" fill="#fff" />
<rect x="119" y="169" width="4" height="5" fill="#fff" />
<rect x="121" y="163" width="1" height="4" fill="#fff" />
<rect x="120" y="175" width="1" height="1" fill="#fff" />
<rect x="125" y="169" width="4" height="5" fill="#fff" />
<rect x="127" y="163" width="1" height="4" fill="#fff" />
<rect x="126" y="175" width="1" height="1" fill="#fff" />
<rect x="131" y="169" width="4" height="5" fill="#fff" />
<rect x="133" y="163" width="1" height="4" fill="#fff" />
<rect x="132" y="175" width="1" height="1" fill="#fff" />
<rect x="137" y="169" width="4" height="5" fill="#fff" />
<rect x="139" y="163" width="1" height="4" fill="#fff" />
<rect x="138" y="175" width="1" height="1" fill="#fff" />
<rect x="143" y="169" width="4" height="5" fill="#fff" />
<rect x="145" y="163" width="1" height="4" fill="#fff" />
<rect x="144" y="175" width="1" height="1" fill="#fff" />
<rect x="149" y="169" width="4" height="5" fill="#fff" />
<rect x="151" y="163" width="1" height="4" fill="#fff" />
<rect x="150" y="175" width="1" height="1" fill="#fff" />
<rect x="155" y="169" width="4" height="5" fill="#fff" />
<rect x="157" y="163" width="1" height="4" fill="#fff" />
<rect x="156" y="175" width="1" height="1" fill="#fff" />
<rect x="161" y="169" width="4" height="5" fill="#fff" />
<rect x="163" y="163" width="1" height="4" fill="#fff" />
<rect x="162" y="175" width="1" height="1" fill="#fff" />
<rect x="167" y="169" width="4" height="5" fill="#fff" />
<rect x="169" y="163" width="1" height="4" fill="#fff" />
<rect x="168" y="175" width="1" height="1" fill="#fff" />
<rect x="172" y="169" width="4" height="5" fill="#fff" />
<rect x="174" y="163" width="1" height="4" fill="#fff" />
<rect x="173" y="175" width="1" height="1" fill="#fff" />
<rect x="178" y="169" width="4" height="5" fill="#fff" />
<rect x="180" y="163" width="1" height="4" fill="#fff" />
<rect x="179" y="175" width="1" height="1" fill="#fff" />
<rect x="184" y="169" width="4" height="5" fill="#fff" />
<rect x="186" y="163" width="1" height="4" fill="#fff" />
<rect x="185" y="175" width="1" height="1" fill="#fff" />
<rect x="190" y="169" width="4" height="5" fill="#fff" />
<rect x="192" y="163" width="1" height="4" fill="#fff" />
<rect x="191" y="175" width="1" height="1" fill="#fff" />
<rect x="196" y="169" width="4" height="5" fill="#fff" />
<rect x="198" y="163" width="1" height="4" fill="#fff" />
<rect x="197" y="175" width="1" height="1" fill="#fff" />
<rect x="202" y="169" width="4" height="5" fill="#fff" />
<rect x="204" y="163" width="1" height="4" fill="#fff" />
<rect x="203" y="175" width="1" height="1" fill="#fff" />
<rect x="208" y="169" width="4" height="5" fill="#fff" />
<rect x="210" y="163" width="1" height="4" fill="#fff" />
<rect x="209" y="175" width="1" height="1" fill="#fff" />
<rect x="214" y="169" width="4" height="5" fill="#fff" />
<rect x="216" y="163" width="1" height="4" fill="#fff" />
<rect x="215" y="175" width="1" height="1" fill="#fff" />
<rect x="220" y="169" width="4" height="5" fill="#fff" />
<rect x="222" y="163" width="1" height="4" fill="#fff" />
<rect x="221" y="175" width="1" height="1" fill="#fff" />
<rect x="226" y="169" width="4" height="5" fill="#fff" />
<rect x="228" y="163" width="1" height="4" fill="#fff" />
<rect x="227" y="175" width="1" height="1" fill="#fff" />
<rect x="232" y="169" width="4" height="5" fill="#fff" />
<rect x="234" y="163" width="1" height="4" fill="#fff" />
<rect x="233" y="175" width="1" height="1" fill="#fff" />
<rect x="237" y="169" width="4" height="5" fill="#fff" />
<rect x="239" y="163" width="1" height="4" fill="#fff" />
<rect x="238" y="175" width="1" height="1" fill="#fff" />
<rect x="104" y="167" width="1" height="3" fill="#fff" />
<rect x="104" y="174" width="1" height="2" fill="#fff" />
<rect x="174" y="167" width="1" height="3" fill="#fff" />
<rect x="174" y="174" width="1" height="2" fill="#fff" />
<rect x="186" y="167" width="1" height="3" fill="#fff" />
<rect x="186" y="174" width="1" height="2" fill="#fff" />
<rect x="222" y="167" width="1" height="3" fill="#fff" />
<rect x="222" y="174" width="1" height="2" fill="#fff" />
<rect x="44" y="179" width="227" height="20" fill="#000" />
<rect x="45" y="180" width="225" height="18" fill="#fff" />
<rect x="51" y="179" width="1" height="18" fill="#000" />
<rect x="44" y="186" width="8" height="1" fill="#000" />
<rect x="44" y="193" width="8" height="1" fill="#000" />
<rect x="53" y="179" width="2" height="17" fill="#000" />
<rect x="51" y="195" width="4" height="2" fill="#000" />
<rect x="55" y="180" width="8" height="1" fill="#000" />
<rect x="62" y="180" width="1" height="8" fill="#000" />
<rect x="55" y="180" width="1" height="15" fill="#000" />
<rect x="55" y="194" width="10" height="1" fill="#000" />
<rect x="64" y="185" width="1" height="10" fill="#000" />
<rect x="62" y="185" width="3" height="1" fill="#000" />
<rect x="55" y="184" width="3" height="3" fill="#000" />
<rect x="57" y="187" width="6" height="1" fill="#000" />
<rect x="262" y="179" width="1" height="18" fill="#000" />
<rect x="262" y="187" width="8" height="1" fill="#000" />
<rect x="262" y="194" width="8" height="1" fill="#000" />
<rect x="259" y="179" width="3" height="18" fill="#000" />
<rect x="251" y="180" width="8" height="1" fill="#000" />
<rect x="251" y="180" width="1" height="8" fill="#000" />
<rect x="258" y="180" width="1" height="15" fill="#000" />
<rect x="249" y="194" width="10" height="1" fill="#000" />
<rect x="249" y="185" width="1" height="10" fill="#000" />
<rect x="249" y="185" width="3" height="1" fill="#000" />
<rect x="256" y="184" width="3" height="3" fill="#000" />
<rect x="251" y="187" width="6" height="1" fill="#000" />
<rect x="70" y="182" width="174" height="7" fill="#000" />
<rect x="69" y="188" width="177" height="8" fill="#000" />
<rect x="70" y="189" width="1" height="5" fill="#fff" />
<rect x="244" y="189" width="1" height="5" fill="#fff" />
<rect x="72" y="189" width="4" height="5" fill="#fff" />
<rect x="74" y="183" width="1" height="4" fill="#fff" />
<rect x="73" y="195" width="1" height="1" fill="#fff" />
<rect x="78" y="189" width="4" height="5" fill="#fff" />
<rect x="80" y="183" width="1" height="4" fill="#fff" />
<rect x="79" y="195" width="1" height="1" fill="#fff" />
<rect x="84" y="189" width="4" height="5" fill="#fff" />
<rect x="86" y="183" width="1" height="4" fill="#fff" />
<rect x="85" y="195" width="1" height="1" fill="#fff" />
<rect x="90" y="189" width="4" height="5" fill="#fff" />
<rect x="92" y="183" width="1" height="4" fill="#fff" />
<rect x="91" y="195" width="1" height="1" fill="#fff" />
<rect x="96" y="189" width="4" height="5" fill="#fff" />
<rect x="98" y="183" width="1" height="4" fill="#fff" />
<rect x="97" y="195" width="1" height="1" fill="#fff" />
<rect x="102" y="189" width="4" height="5" fill="#fff" />
<rect x="104" y="183" width="1" height="4" fill="#fff" />
<rect x="103" y="195" width="1" height="1" fill="#fff" />
<rect x="107" y="189" width="4" height="5" fill="#fff" />
<rect x="109" y="183" width="1" height="4" fill="#fff" />
<rect x="108" y="195" width="1" height="1" fill="#fff" />
<rect x="113" y="189" width="4" height="5" fill="#fff" />
<rect x="115" y="183" width="1" height="4" fill="#fff" />
<rect x="114" y="195" width="1" height="1" fill="#fff" />
<rect x="119" y="189" width="4" height="5" fill="#fff" />
<rect x="121" y="183" width="1" height="4" fill="#fff" />
<rect x="120" y="195" width="1" height="1" fill="#fff" />
<rect x="125" y="189" width="4" height="5" fill="#fff" />
<rect x="127" y="183" width="1" height="4" fill="#fff" />
<rect x="126" y="195" width="1" height="1" fill="#fff" />
<rect x="131" y="189" width="4" height="5" fill="#fff" />
<rect x="133" y="183" width="1" height="4" fill="#fff" />
<rect x="132" y="195" width="1" height="1" fill="#fff" />
<rect x="137" y="189" width="4" height="5" fill="#fff" />
<rect x="139" y="183" width="1" height="4" fill="#fff" />
<rect x="138" y="195" width="1" height="1" fill="#fff" />
<rect x="143" y="189" width="4" height="5" fill="#fff" />
<rect x="145" y="183" width="1" height="4" fill="#fff" />
<rect x="144" y="195" width="1" height="1" fill="#fff" />
<rect x="149" y="189" width="4" height="5" fill="#fff" />
<rect x="151" y="183" width="1" height="4" fill="#fff" />
<rect x="150" y="195" width="1" height="1" fill="#fff" />
<rect x="155" y="189" width="4" height="5" fill="#fff" />
<rect x="157" y="183" width="1" height="4" fill="#fff" />
<rect x="156" y="195" width="1" height="1" fill="#fff" />
<rect x="161" y="189" width="4" height="5" fill="#fff" />
<rect x="163" y="183" width="1" height="4" fill="#fff" />
<rect x="162" y="195" width="1" height="1" fill="#fff" />
<rect x="167" y="189" width="4" height="5" fill="#fff" />
<rect x="169" y="183" width="1" height="4" fill="#fff" />
<rect x="168" y="195" width="1" height="1" fill="#fff" />
<rect x="172" y="189" width="4" height="5" fill="#fff" />
<rect x="174" y="183" width="1" height="4" fill="#fff" />
<rect x="173" y="195" width="1" height="1" fill="#fff" />
<rect x="178" y="189" width="4" height="5" fill="#fff" />
<rect x="180" y="183" width="1" height="4" fill="#fff" />
<rect x="179" y="195" width="1" height="1" fill="#fff" />
<rect x="184" y="189" width="4" height="5" fill="#fff" />
<rect x="186" y="183" width="1" height="4" fill="#fff" />
<rect x="185" y="195" width="1" height="1" fill="#fff" />
<rect x="190" y="189" width="4" height="5" fill="#fff" />
<rect x="192" y="183" width="1" height="4" fill="#fff" />
<rect x="191" y="195" width="1" height="1" fill="#fff" />
<rect x="196" y="189" width="4" height="5" fill="#fff" />
<rect x="198" y="183" width="1" height="4" fill="#fff" />
<rect x="197" y="195" width="1" height="1" fill="#fff" />
<rect x="202" y="189" width="4" height="5" fill="#fff" />
<rect x="204" y="183" width="1" height="4" fill="#fff" />
<rect x="203" y="195" width="1" height="1" fill="#fff" />
<rect x="208" y="189" width="4" height="5" fill="#fff" />
<rect x="210" y="183" width="1" height="4" fill="#fff" />
<rect x="209" y="195" width="1" height="1" fill="#fff" />
<rect x="214" y="189" width="4" height="5" fill="#fff" />
<rect x="216" y="183" width="1" height="4" fill="#fff" />
<rect x="215" y="195" width="1" height="1" fill="#fff" />
<rect x="220" y="189" width="4" height="5" fill="#fff" />
<rect x="222" y="183" width="1" height="4" fill="#fff" />
<rect x="221" y="195" width="1" height="1" fill="#fff" />
<rect x="226" y="189" width="4" height="5" fill="#fff" />
<rect x="228" y="183" width="1" height="4" fill="#fff" />
<rect x="227" y="195" width="1" height="1" fill="#fff" />
<rect x="232" y="189" width="4" height="5" fill="#fff" />
<rect x="234" y="183" width="1" height="4" fill="#fff" />
<rect x="233" y="195" width="1" height="1" fill="#fff" />
<rect x="237" y="189" width="4" height="5" fill="#fff" />
<rect x="239" y="183" width="1" height="4" fill="#fff" />
<rect x="238" y="195" width="1" height="1" fill="#fff" />
<rect x="104" y="187" width="1" height="3" fill="#fff" />
<rect x="104" y="194" width="1" height="2" fill="#fff" />
<rect x="174" y="187" width="1" height="3" fill="#fff" />
<rect x="174" y="194" width="1" height="2" fill="#fff" />
<rect x="186" y="187" width="1" height="3" fill="#fff" />
<rect x="186" y="194" width="1" height="2" fill="#fff" />
<rect x="222" y="187" width="1" height="3" fill="#fff" />
<rect x="222" y="194" width="1" height="2" fill="#fff" />
<rect x="44" y="207" width="227" height="19" fill="#000" />
<rect x="45" y="208" width="225" height="17" fill="#fff" />
<rect x="51" y="207" width="1" height="18" fill="#000" />
<rect x="44" y="214" width="8" height="1" fill="#000" />
<rect x="44" y="221" width="8" height="1" fill="#000" />
<rect x="53" y="207" width="2" height="17" fill="#000" />
<rect x="51" y="223" width="4" height="2" fill="#000" />
<rect x="55" y="208" width="8" height="1" fill="#000" />
<rect x="62" y="208" width="1" height="8" fill="#000" />
<rect x="55" y="208" width="1" height="15" fill="#000" />
<rect x="55" y="222" width="10" height="1" fill="#000" />
<rect x="64" y="213" width="1" height="10" fill="#000" />
<rect x="62" y="213" width="3" height="1" fill="#000" />
<rect x="55" y="212" width="3" height="3" fill="#000" />
<rect x="57" y="215" width="6" height="1" fill="#000" />
<rect x="262" y="207" width="1" height="18" fill="#000" />
<rect x="262" y="215" width="8" height="1" fill="#000" />
<rect x="262" y="222" width="8" height="1" fill="#000" />
<rect x="259" y="207" width="3" height="18" fill="#000" />
<rect x="251" y="208" width="8" height="1" fill="#000" />
<rect x="251" y="208" width="1" height="8" fill="#000" />
<rect x="258" y="208" width="1" height="15" fill="#000" />
<rect x="249" y="222" width="10" height="1" fill="#000" />
<rect x="249" y="213" width="1" height="10" fill="#000" />
<rect x="249" y="213" width="3" height="1" fill="#000" />
<rect x="256" y="212" width="3" height="3" fill="#000" />
<rect x="251" y="215" width="6" height="1" fill="#000" />
<rect x="70" y="210" width="174" height="7" fill="#000" />
<rect x="69" y="216" width="177" height="8" fill="#000" />
<rect x="70" y="217" width="1" height="5" fill="#fff" />
<rect x="244" y="217" width="1" height="5" fill="#fff" />
<rect x="72" y="217" width="4" height="5" fill="#fff" />
<rect x="74" y="211" width="1" height="4" fill="#fff" />
<rect x="73" y="223" width="1" height="1" fill="#fff" />
<rect x="78" y="217" width="4" height="5" fill="#fff" />
<rect x="80" y="211" width="1" height="4" fill="#fff" />
<rect x="79" y="223" width="1" height="1" fill="#fff" />
<rect x="84" y="217" width="4" height="5" fill="#fff" />
<rect x="86" y="211" width="1" height="4" fill="#fff" />
<rect x="85" y="223" width="1" height="1" fill="#fff" />
<rect x="90" y="217" width="4" height="5" fill="#fff" />
<rect x="92" y="211" width="1" height="4" fill="#fff" />
<rect x="91" y="223" width="1" height="1" fill="#fff" />
<rect x="96" y="217" width="4" height="5" fill="#fff" />
<rect x="98" y="211" width="1" height="4" fill="#fff" />
<rect x="97" y="223" width="1" height="1" fill="#fff" />
<rect x="102" y="217" width="4" height="5" fill="#fff" />
<rect x="104" y="211" width="1" height="4" fill="#fff" />
<rect x="103" y="223" width="1" height="1" fill="#fff" />
<rect x="107" y="217" width="4" height="5" fill="#fff" />
<rect x="109" y="211" width="1" height="4" fill="#fff" />
<rect x="108" y="223" width="1" height="1" fill="#fff" />
<rect x="113" y="217" width="4" height="5" fill="#fff" />
<rect x="115" y="211" width="1" height="4" fill="#fff" />
<rect x="114" y="223" width="1" height="1" fill="#fff" />
<rect x="119" y="217" width="4" height="5" fill="#fff" />
<rect x="121" y="211" width="1" height="4" fill="#fff" />
<rect x="120" y="223" width="1" height="1" fill="#fff" />
<rect x="125" y="217" width="4" height="5" fill="#fff" />
<rect x="127" y="211" width="1" height="4" fill="#fff" />
<rect x="126" y="223" width="1" height="1" fill="#fff" />
<rect x="131" y="217" width="4" height="5" fill="#fff" />
<rect x="133" y="211" width="1" height="4" fill="#fff" />
<rect x="132" y="223" width="1" height="1" fill="#fff" />
<rect x="137" y="217" width="4" height="5" fill="#fff" />
<rect x="139" y="211" width="1" height="4" fill="#fff" />
<rect x="138" y="223" width="1" height="1" fill="#fff" />
<rect x="143" y="217" width="4" height="5" fill="#fff" />
<rect x="145" y="211" width="1" height="4" fill="#fff" />
<rect x="144" y="223" width="1" height="1" fill="#fff" />
<rect x="149" y="217" width="4" height="5" fill="#fff" />
<rect x="151" y="211" width="1" height="4" fill="#fff" />
<rect x="150" y="223" width="1" height="1" fill="#fff" />
<rect x="155" y="217" width="4" height="5" fill="#fff" />
<rect x="157" y="211" width="1" height="4" fill="#fff" />
<rect x="156" y="223" width="1" height="1" fill="#fff" />
<rect x="161" y="217" width="4" height="5" fill="#fff" />
<rect x="163" y="211" width="1" height="4" fill="#fff" />
<rect x="162" y="223" width="1" height="1" fill="#fff" />
<rect x="167" y="217" width="4" height="5" fill="#fff" />
<rect x="169" y="211" width="1" height="4" fill="#fff" />
<rect x="168" y="223" width="1" height="1" fill="#fff" />
<rect x="172" y="217" width="4" height="5" fill="#fff" />
<rect x="174" y="211" width="1" height="4" fill="#fff" />
<rect x="173" y="223" width="1" height="1" fill="#fff" />
<rect x="178" y="217" width="4" height="5" fill="#fff" />
<rect x="180" y="211" width="1" height="4" fill="#fff" />
<rect x="179" y="223" width="1" height="1" fill="#fff" />
<rect x="184" y="217" width="4" height="5" fill="#fff" />
<rect x="186" y="211" width="1" height="4" fill="#fff" />
<rect x="185" y="223" width="1" height="1" fill="#fff" />
<rect x="190" y="217" width="4" height="5" fill="#fff" />
<rect x="192" y="211" width="1" height="4" fill="#fff" />
<rect x="191" y="223" width="1" height="1" fill="#fff" />
<rect x="196" y="217" width="4" height="5" fill="#fff" />
<rect x="198" y="211" width="1" height="4" fill="#fff" />
<rect x="197" y="223" width="1" height="1" fill="#fff" />
<rect x="202" y="217" width="4" height="5" fill="#fff" />
<rect x="204" y="211" width="1" height="4" fill="#fff" />
<rect x="203" y="223" width="1" height="1" fill="#fff" />
<rect x="208" y="217" width="4" height="5" fill="#fff" />
<rect x="210" y="211" width="1" height="4" fill="#fff" />
<rect x="209" y="223" width="1" height="1" fill="#fff" />
<rect x="214" y="217" width="4" height="5" fill="#fff" />
<rect x="216" y="211" width="1" height="4" fill="#fff" />
<rect x="215" y="223" width="1" height="1" fill="#fff" />
<rect x="220" y="217" width="4" height="5" fill="#fff" />
<rect x="222" y="211" width="1" height="4" fill="#fff" />
<rect x="221" y="223" width="1" height="1" fill="#fff" />
<rect x="226" y="217" width="4" height="5" fill="#fff" />
<rect x="228" y="211" width="1" height="4" fill="#fff" />
<rect x="227" y="223" width="1" height="1" fill="#fff" />
<rect x="232" y="217" width="4" height="5" fill="#fff" />
<rect x="234" y="211" width="1" height="4" fill="#fff" />
<rect x="233" y="223" width="1" height="1" fill="#fff" />
<rect x="237" y="217" width="4" height="5" fill="#fff" />
<rect x="239" y="211" width="1" height="4" fill="#fff" />
<rect x="238" y="223" width="1" height="1" fill="#fff" />
<rect x="104" y="215" width="1" height="3" fill="#fff" />
<rect x="104" y="222" width="1" height="2" fill="#fff" />
<rect x="174" y="215" width="1" height="3" fill="#fff" />
<rect x="174" y="222" width="1" height="2" fill="#fff" />
<rect x="186" y="215" width="1" height="3" fill="#fff" />
<rect x="186" y="222" width="1" height="2" fill="#fff" />
<rect x="222" y="215" width="1" height="3" fill="#fff" />
<rect x="222" y="222" width="1" height="2" fill="#fff" />
<rect x="44" y="227" width="227" height="19" fill="#000" />
<rect x="45" y="228" width="225" height="17" fill="#fff" />
<rect x="51" y="227" width="1" height="17" fill="#000" />
<rect x="44" y="233" width="8" height="1" fill="#000" />
<rect x="44" y="240" width="8" height="1" fill="#000" />
<rect x="53" y="227" width="2" height="16" fill="#000" />
<rect x="51" y="242" width="4" height="2" fill="#000" />
<rect x="55" y="227" width="8" height="1" fill="#000" />
<rect x="62" y="227" width="1" height="8" fill="#000" />
<rect x="55" y="227" width="1" height="15" fill="#000" />
<rect x="55" y="241" width="10" height="1" fill="#000" />
<rect x="64" y="232" width="1" height="10" fill="#000" />
<rect x="62" y="232" width="3" height="1" fill="#000" />
<rect x="55" y="231" width="3" height="3" fill="#000" />
<rect x="57" y="234" width="6" height="1" fill="#000" />
<rect x="262" y="227" width="1" height="17" fill="#000" />
<rect x="262" y="234" width="8" height="1" fill="#000" />
<rect x="262" y="241" width="8" height="1" fill="#000" />
<rect x="259" y="227" width="3" height="17" fill="#000" />
<rect x="251" y="227" width="8" height="1" fill="#000" />
<rect x="251" y="227" width="1" height="8" fill="#000" />
<rect x="258" y="227" width="1" height="15" fill="#000" />
<rect x="249" y="241" width="10" height="1" fill="#000" />
<rect x="249" y="232" width="1" height="10" fill="#000" />
<rect x="249" y="232" width="3" height="1" fill="#000" />
<rect x="256" y="231" width="3" height="3" fill="#000" />
<rect x="251" y="234" width="6" height="1" fill="#000" />
<rect x="70" y="229" width="174" height="7" fill="#000" />
<rect x="69" y="235" width="177" height="8" fill="#000" />
<rect x="70" y="236" width="1" height="5" fill="#fff" />
<rect x="244" y="236" width="1" height="5" fill="#fff" />
<rect x="72" y="236" width="4" height="5" fill="#fff" />
<rect x="74" y="230" width="1" height="4" fill="#fff" />
<rect x="73" y="242" width="1" height="1" fill="#fff" />
<rect x="78" y="236" width="4" height="5" fill="#fff" />
<rect x="80" y="230" width="1" height="4" fill="#fff" />
<rect x="79" y="242" width="1" height="1" fill="#fff" />
<rect x="84" y="236" width="4" height="5" fill="#fff" />
<rect x="86" y="230" width="1" height="4" fill="#fff" />
<rect x="85" y="242" width="1" height="1" fill="#fff" />
<rect x="90" y="236" width="4" height="5" fill="#fff" />
<rect x="92" y="230" width="1" height="4" fill="#fff" />
<rect x="91" y="242" width="1" height="1" fill="#fff" />
<rect x="96" y="236" width="4" height="5" fill="#fff" />
<rect x="98" y="230" width="1" height="4" fill="#fff" />
<rect x="97" y="242" width="1" height="1" fill="#fff" />
<rect x="102" y="236" width="4" height="5" fill="#fff" />
<rect x="104" y="230" width="1" height="4" fill="#fff" />
<rect x="103" y="242" width="1" height="1" fill="#fff" />
<rect x="107" y="236" width="4" height="5" fill="#fff" />
<rect x="109" y="230" width="1" height="4" fill="#fff" />
<rect x="108" y="242" width="1" height="1" fill="#fff" />
<rect x="113" y="236" width="4" height="5" fill="#fff" />
<rect x="115" y="230" width="1" height="4" fill="#fff" />
<rect x="114" y="242" width="1" height="1" fill="#fff" />
<rect x="119" y="236" width="4" height="5" fill="#fff" />
<rect x="121" y="230" width="1" height="4" fill="#fff" />
<rect x="120" y="242" width="1" height="1" fill="#fff" />
<rect x="125" y="236" width="4" height="5" fill="#fff" />
<rect x="127" y="230" width="1" height="4" fill="#fff" />
<rect x="126" y="242" width="1" height="1" fill="#fff" />
<rect x="131" y="236" width="4" height="5" fill="#fff" />
<rect x="133" y="230" width="1" height="4" fill="#fff" />
<rect x="132" y="242" width="1" height="1" fill="#fff" />
<rect x="137" y="236" width="4" height="5" fill="#fff" />
<rect x="139" y="230" width="1" height="4" fill="#fff" />
<rect x="138" y="242" width="1" height="1" fill="#fff" />
<rect x="143" y="236" width="4" height="5" fill="#fff" />
<rect x="145" y="230" width="1" height="4" fill="#fff" />
<rect x="144" y="242" width="1" height="1" fill="#fff" />
<rect x="149" y="236" width="4" height="5" fill="#fff" />
<rect x="151" y="230" width="1" height="4" fill="#fff" />
<rect x="150" y="242" width="1" height="1" fill="#fff" />
<rect x="155" y="236" width="4" height="5" fill="#fff" />
<rect x="157" y="230" width="1" height="4" fill="#fff" />
<rect x="156" y="242" width="1" height="1" fill="#fff" />
<rect x="161" y="236" width="4" height="5" fill="#fff" />
<rect x="163" y="230" width="1" height="4" fill="#fff" />
<rect x="162" y="242" width="1" height="1" fill="#fff" />
<rect x="167" y="236" width="4" height="5" fill="#fff" />
<rect x="169" y="230" width="1" height="4" fill="#fff" />
<rect x="168" y="242" width="1" height="1" fill="#fff" />
<rect x="172" y="236" width="4" height="5" fill="#fff" />
<rect x="174" y="230" width="1" height="4" fill="#fff" />
<rect x="173" y="242" width="1" height="1" fill="#fff" />
<rect x="178" y="236" width="4" height="5" fill="#fff" />
<rect x="180" y="230" width="1" height="4" fill="#fff" />
<rect x="179" y="242" width="1" height="1" fill="#fff" />
<rect x="184" y="236" width="4" height="5" fill="#fff" />
<rect x="186" y="230" width="1" height="4" fill="#fff" />
<rect x="185" y="242" width="1" height="1" fill="#fff" />
<rect x="190" y="236" width="4" height="5" fill="#fff" />
<rect x="192" y="230" width="1" height="4" fill="#fff" />
<rect x="191" y="242" width="1" height="1" fill="#fff" />
<rect x="196" y="236" width="4" height="5" fill="#fff" />
<rect x="198" y="230" width="1" height="4" fill="#fff" />
<rect x="197" y="242" width="1" height="1" fill="#fff" />
<rect x="202" y="236" width="4" height="5" fill="#fff" />
<rect x="204" y="230" width="1" height="4" fill="#fff" />
<rect x="203" y="242" width="1" height="1" fill="#fff" />
<rect x="208" y="236" width="4" height="5" fill="#fff" />
<rect x="210" y="230" width="1" height="4" fill="#fff" />
<rect x="209" y="242" width="1" height="1" fill="#fff" />
<rect x="214" y="236" width="4" height="5" fill="#fff" />
<rect x="216" y="230" width="1" height="4" fill="#fff" />
<rect x="215" y="242" width="1" height="1" fill="#fff" />
<rect x="220" y="236" width="4" height="5" fill="#fff" />
<rect x="222" y="230" width="1" height="4" fill="#fff" />
<rect x="221" y="242" width="1" height="1" fill="#fff" />
<rect x="226" y="236" width="4" height="5" fill="#fff" />
<rect x="228" y="230" width="1" height="4" fill="#fff" />
<rect x="227" y="242" width="1" height="1" fill="#fff" />
<rect x="232" y="236" width="4" height="5" fill="#fff" />
<rect x="234" y="230" width="1" height="4" fill="#fff" />
<rect x="233" y="242" width="1" height="1" fill="#fff" />
<rect x="237" y="236" width="4" height="5" fill="#fff" />
<rect x="239" y="230" width="1" height="4" fill="#fff" />
<rect x="238" y="242" width="1" height="1" fill="#fff" />
<rect x="104" y="234" width="1" height="3" fill="#fff" />
<rect x="104" y="241" width="1" height="2" fill="#fff" />
<rect x="174" y="234" width="1" height="3" fill="#fff" />
<rect x="174" y="241" width="1" height="2" fill="#fff" />
<rect x="186" y="234" width="1" height="3" fill="#fff" />
<rect x="186" y="241" width="1" height="2" fill="#fff" />
<rect x="222" y="234" width="1" height="3" fill="#fff" />
<rect x="222" y="241" width="1" height="2" fill="#fff" />
<rect x="127.4" y="100" width="58.400000000000006" height="15.299999999999997" rx="1.5" fill="#000" style="shape-rendering:auto"/>
<rect x="128.4" y="101" width="55.10000000000001" height="12.299999999999997" rx="1" fill="#fff" style="shape-rendering:auto"/>
<path transform="translate(130.50,102.50) scale(0.9615,0.8889)" d="M0,0 L0,9 L2.8,9 Q5.2,9 5.2,6.6 Q5.2,4.3 2.8,4.3 L0,4.3 M2.8,4.3 Q4.8,4.3 4.8,2.15 Q4.8,0 2.8,0 L0,0" fill="none" stroke="#000" stroke-width="1.05" vector-effect="non-scaling-stroke" stroke-linecap="square" stroke-linejoin="round"/>
<path transform="translate(138.50,102.50) scale(0.9722,0.8889)" d="M0,9 L3.6,0 L7.2,9 M1.3,5.9 L5.9,5.9" fill="none" stroke="#000" stroke-width="1.05" vector-effect="non-scaling-stroke" stroke-linecap="square" stroke-linejoin="round"/>
<path transform="translate(148.50,102.50) scale(0.9091,0.8889)" d="M0,9 L0,0 L5.5,9 L5.5,0" fill="none" stroke="#000" stroke-width="1.05" vector-effect="non-scaling-stroke" stroke-linecap="square" stroke-linejoin="round"/>
<path transform="translate(158.50,102.50) scale(1.0000,0.8889)" d="M0,0 L0,9 M5.6,0 L0,5.6 M2.2,3.7 L6,9" fill="none" stroke="#000" stroke-width="1.05" vector-effect="non-scaling-stroke" stroke-linecap="square" stroke-linejoin="round"/>
<path transform="translate(173.50,102.50) scale(0.9375,0.8889)" d="M0,2.2 L1.6,2.0 Q3.2,1.6 3.2,0 L3.2,9" fill="none" stroke="#000" stroke-width="1.05" vector-effect="non-scaling-stroke" stroke-linecap="square" stroke-linejoin="round"/>
<rect x="127.4" y="195.5" width="58.400000000000006" height="17.30000000000001" rx="1.5" fill="#000" style="shape-rendering:auto"/>
<rect x="128.4" y="196.5" width="55.10000000000001" height="14.300000000000011" rx="1" fill="#fff" style="shape-rendering:auto"/>
<path transform="translate(130.50,198.50) scale(0.9615,0.8889)" d="M0,0 L0,9 L2.8,9 Q5.2,9 5.2,6.6 Q5.2,4.3 2.8,4.3 L0,4.3 M2.8,4.3 Q4.8,4.3 4.8,2.15 Q4.8,0 2.8,0 L0,0" fill="none" stroke="#000" stroke-width="1.05" vector-effect="non-scaling-stroke" stroke-linecap="square" stroke-linejoin="round"/>
<path transform="translate(138.50,198.50) scale(0.9722,0.8889)" d="M0,9 L3.6,0 L7.2,9 M1.3,5.9 L5.9,5.9" fill="none" stroke="#000" stroke-width="1.05" vector-effect="non-scaling-stroke" stroke-linecap="square" stroke-linejoin="round"/>
<path transform="translate(148.50,198.50) scale(0.9091,0.8889)" d="M0,9 L0,0 L5.5,9 L5.5,0" fill="none" stroke="#000" stroke-width="1.05" vector-effect="non-scaling-stroke" stroke-linecap="square" stroke-linejoin="round"/>
<path transform="translate(157.50,198.50) scale(1.0000,0.8889)" d="M0,0 L0,9 M5.6,0 L0,5.6 M2.2,3.7 L6,9" fill="none" stroke="#000" stroke-width="1.05" vector-effect="non-scaling-stroke" stroke-linecap="square" stroke-linejoin="round"/>
<path transform="translate(171.50,199.50) scale(0.8000,0.7778)" d="M2.5,0 Q5,0 5,4.5 Q5,9 2.5,9 Q0,9 0,4.5 Q0,0 2.5,0 Z" fill="none" stroke="#000" stroke-width="1.05" vector-effect="non-scaling-stroke" stroke-linecap="square" stroke-linejoin="round"/>
<rect x="64" y="249" width="84" height="24" fill="#000" />
<rect x="66" y="251" width="4" height="5" fill="#fff" />
<rect x="67" y="266" width="3" height="5" fill="#fff" />
<rect x="72" y="251" width="3" height="5" fill="#fff" />
<rect x="72" y="266" width="3" height="5" fill="#fff" />
<rect x="78" y="251" width="3" height="5" fill="#fff" />
<rect x="78" y="266" width="3" height="5" fill="#fff" />
<rect x="84" y="251" width="3" height="5" fill="#fff" />
<rect x="84" y="266" width="3" height="5" fill="#fff" />
<rect x="90" y="251" width="3" height="5" fill="#fff" />
<rect x="90" y="266" width="3" height="5" fill="#fff" />
<rect x="96" y="251" width="3" height="5" fill="#fff" />
<rect x="96" y="266" width="3" height="5" fill="#fff" />
<rect x="101" y="251" width="3" height="5" fill="#fff" />
<rect x="101" y="266" width="3" height="5" fill="#fff" />
<rect x="107" y="251" width="3" height="5" fill="#fff" />
<rect x="107" y="266" width="3" height="5" fill="#fff" />
<rect x="113" y="251" width="3" height="5" fill="#fff" />
<rect x="113" y="266" width="3" height="5" fill="#fff" />
<rect x="119" y="251" width="3" height="5" fill="#fff" />
<rect x="119" y="266" width="3" height="5" fill="#fff" />
<rect x="125" y="251" width="3" height="5" fill="#fff" />
<rect x="125" y="266" width="3" height="5" fill="#fff" />
<rect x="131" y="251" width="3" height="5" fill="#fff" />
<rect x="131" y="266" width="3" height="5" fill="#fff" />
<rect x="137" y="251" width="3" height="5" fill="#fff" />
<rect x="137" y="266" width="3" height="5" fill="#fff" />
<rect x="143" y="251" width="3" height="5" fill="#fff" />
<rect x="143" y="266" width="3" height="5" fill="#fff" />
<rect x="71" y="258" width="34" height="6" fill="#fff" />
<rect x="110" y="258" width="33" height="6" fill="#fff" />
<path d="M64,259 L67,261 L64,263 Z" fill="#fff" stroke="none" stroke-width="1" />
<rect x="154" y="249" width="84" height="24" fill="#000" />
<rect x="156" y="251" width="4" height="5" fill="#fff" />
<rect x="157" y="266" width="3" height="5" fill="#fff" />
<rect x="162" y="251" width="3" height="5" fill="#fff" />
<rect x="162" y="266" width="3" height="5" fill="#fff" />
<rect x="168" y="251" width="3" height="5" fill="#fff" />
<rect x="168" y="266" width="3" height="5" fill="#fff" />
<rect x="174" y="251" width="3" height="5" fill="#fff" />
<rect x="174" y="266" width="3" height="5" fill="#fff" />
<rect x="180" y="251" width="3" height="5" fill="#fff" />
<rect x="180" y="266" width="3" height="5" fill="#fff" />
<rect x="186" y="251" width="3" height="5" fill="#fff" />
<rect x="186" y="266" width="3" height="5" fill="#fff" />
<rect x="191" y="251" width="3" height="5" fill="#fff" />
<rect x="191" y="266" width="3" height="5" fill="#fff" />
<rect x="197" y="251" width="3" height="5" fill="#fff" />
<rect x="197" y="266" width="3" height="5" fill="#fff" />
<rect x="203" y="251" width="3" height="5" fill="#fff" />
<rect x="203" y="266" width="3" height="5" fill="#fff" />
<rect x="209" y="251" width="3" height="5" fill="#fff" />
<rect x="209" y="266" width="3" height="5" fill="#fff" />
<rect x="215" y="251" width="3" height="5" fill="#fff" />
<rect x="215" y="266" width="3" height="5" fill="#fff" />
<rect x="221" y="251" width="3" height="5" fill="#fff" />
<rect x="221" y="266" width="3" height="5" fill="#fff" />
<rect x="227" y="251" width="3" height="5" fill="#fff" />
<rect x="227" y="266" width="3" height="5" fill="#fff" />
<rect x="233" y="251" width="3" height="5" fill="#fff" />
<rect x="233" y="266" width="3" height="5" fill="#fff" />
<rect x="161" y="258" width="34" height="6" fill="#fff" />
<rect x="200" y="258" width="33" height="6" fill="#fff" />
<path d="M154,259 L157,261 L154,263 Z" fill="#fff" stroke="none" stroke-width="1" />
<rect x="64" y="275" width="84" height="24" fill="#000" />
<rect x="66" y="277" width="4" height="5" fill="#fff" />
<rect x="67" y="292" width="3" height="5" fill="#fff" />
<rect x="72" y="277" width="3" height="5" fill="#fff" />
<rect x="72" y="292" width="3" height="5" fill="#fff" />
<rect x="78" y="277" width="3" height="5" fill="#fff" />
<rect x="78" y="292" width="3" height="5" fill="#fff" />
<rect x="84" y="277" width="3" height="5" fill="#fff" />
<rect x="84" y="292" width="3" height="5" fill="#fff" />
<rect x="90" y="277" width="3" height="5" fill="#fff" />
<rect x="90" y="292" width="3" height="5" fill="#fff" />
<rect x="96" y="277" width="3" height="5" fill="#fff" />
<rect x="96" y="292" width="3" height="5" fill="#fff" />
<rect x="101" y="277" width="3" height="5" fill="#fff" />
<rect x="101" y="292" width="3" height="5" fill="#fff" />
<rect x="107" y="277" width="3" height="5" fill="#fff" />
<rect x="107" y="292" width="3" height="5" fill="#fff" />
<rect x="113" y="277" width="3" height="5" fill="#fff" />
<rect x="113" y="292" width="3" height="5" fill="#fff" />
<rect x="119" y="277" width="3" height="5" fill="#fff" />
<rect x="119" y="292" width="3" height="5" fill="#fff" />
<rect x="125" y="277" width="3" height="5" fill="#fff" />
<rect x="125" y="292" width="3" height="5" fill="#fff" />
<rect x="131" y="277" width="3" height="5" fill="#fff" />
<rect x="131" y="292" width="3" height="5" fill="#fff" />
<rect x="137" y="277" width="3" height="5" fill="#fff" />
<rect x="137" y="292" width="3" height="5" fill="#fff" />
<rect x="143" y="277" width="3" height="5" fill="#fff" />
<rect x="143" y="292" width="3" height="5" fill="#fff" />
<rect x="71" y="284" width="34" height="6" fill="#fff" />
<rect x="110" y="284" width="33" height="6" fill="#fff" />
<path d="M64,285 L67,287 L64,289 Z" fill="#fff" stroke="none" stroke-width="1" />
<rect x="154" y="275" width="84" height="24" fill="#000" />
<rect x="156" y="277" width="4" height="5" fill="#fff" />
<rect x="157" y="292" width="3" height="5" fill="#fff" />
<rect x="162" y="277" width="3" height="5" fill="#fff" />
<rect x="162" y="292" width="3" height="5" fill="#fff" />
<rect x="168" y="277" width="3" height="5" fill="#fff" />
<rect x="168" y="292" width="3" height="5" fill="#fff" />
<rect x="174" y="277" width="3" height="5" fill="#fff" />
<rect x="174" y="292" width="3" height="5" fill="#fff" />
<rect x="180" y="277" width="3" height="5" fill="#fff" />
<rect x="180" y="292" width="3" height="5" fill="#fff" />
<rect x="186" y="277" width="3" height="5" fill="#fff" />
<rect x="186" y="292" width="3" height="5" fill="#fff" />
<rect x="191" y="277" width="3" height="5" fill="#fff" />
<rect x="191" y="292" width="3" height="5" fill="#fff" />
<rect x="197" y="277" width="3" height="5" fill="#fff" />
<rect x="197" y="292" width="3" height="5" fill="#fff" />
<rect x="203" y="277" width="3" height="5" fill="#fff" />
<rect x="203" y="292" width="3" height="5" fill="#fff" />
<rect x="209" y="277" width="3" height="5" fill="#fff" />
<rect x="209" y="292" width="3" height="5" fill="#fff" />
<rect x="215" y="277" width="3" height="5" fill="#fff" />
<rect x="215" y="292" width="3" height="5" fill="#fff" />
<rect x="221" y="277" width="3" height="5" fill="#fff" />
<rect x="221" y="292" width="3" height="5" fill="#fff" />
<rect x="227" y="277" width="3" height="5" fill="#fff" />
<rect x="227" y="292" width="3" height="5" fill="#fff" />
<rect x="233" y="277" width="3" height="5" fill="#fff" />
<rect x="233" y="292" width="3" height="5" fill="#fff" />
<rect x="161" y="284" width="34" height="6" fill="#fff" />
<rect x="200" y="284" width="33" height="6" fill="#fff" />
<path d="M154,285 L157,287 L154,289 Z" fill="#fff" stroke="none" stroke-width="1" />
<rect x="64" y="301" width="84" height="24" fill="#000" />
<rect x="66" y="303" width="4" height="5" fill="#fff" />
<rect x="67" y="318" width="3" height="5" fill="#fff" />
<rect x="72" y="303" width="3" height="5" fill="#fff" />
<rect x="72" y="318" width="3" height="5" fill="#fff" />
<rect x="78" y="303" width="3" height="5" fill="#fff" />
<rect x="78" y="318" width="3" height="5" fill="#fff" />
<rect x="84" y="303" width="3" height="5" fill="#fff" />
<rect x="84" y="318" width="3" height="5" fill="#fff" />
<rect x="90" y="303" width="3" height="5" fill="#fff" />
<rect x="90" y="318" width="3" height="5" fill="#fff" />
<rect x="96" y="303" width="3" height="5" fill="#fff" />
<rect x="96" y="318" width="3" height="5" fill="#fff" />
<rect x="101" y="303" width="3" height="5" fill="#fff" />
<rect x="101" y="318" width="3" height="5" fill="#fff" />
<rect x="107" y="303" width="3" height="5" fill="#fff" />
<rect x="107" y="318" width="3" height="5" fill="#fff" />
<rect x="113" y="303" width="3" height="5" fill="#fff" />
<rect x="113" y="318" width="3" height="5" fill="#fff" />
<rect x="119" y="303" width="3" height="5" fill="#fff" />
<rect x="119" y="318" width="3" height="5" fill="#fff" />
<rect x="125" y="303" width="3" height="5" fill="#fff" />
<rect x="125" y="318" width="3" height="5" fill="#fff" />
<rect x="131" y="303" width="3" height="5" fill="#fff" />
<rect x="131" y="318" width="3" height="5" fill="#fff" />
<rect x="137" y="303" width="3" height="5" fill="#fff" />
<rect x="137" y="318" width="3" height="5" fill="#fff" />
<rect x="143" y="303" width="3" height="5" fill="#fff" />
<rect x="143" y="318" width="3" height="5" fill="#fff" />
<rect x="71" y="310" width="34" height="6" fill="#fff" />
<rect x="110" y="310" width="33" height="6" fill="#fff" />
<path d="M64,311 L67,313 L64,315 Z" fill="#fff" stroke="none" stroke-width="1" />
<rect x="154" y="301" width="84" height="24" fill="#000" />
<rect x="156" y="303" width="4" height="5" fill="#fff" />
<rect x="157" y="318" width="3" height="5" fill="#fff" />
<rect x="162" y="303" width="3" height="5" fill="#fff" />
<rect x="162" y="318" width="3" height="5" fill="#fff" />
<rect x="168" y="303" width="3" height="5" fill="#fff" />
<rect x="168" y="318" width="3" height="5" fill="#fff" />
<rect x="174" y="303" width="3" height="5" fill="#fff" />
<rect x="174" y="318" width="3" height="5" fill="#fff" />
<rect x="180" y="303" width="3" height="5" fill="#fff" />
<rect x="180" y="318" width="3" height="5" fill="#fff" />
<rect x="186" y="303" width="3" height="5" fill="#fff" />
<rect x="186" y="318" width="3" height="5" fill="#fff" />
<rect x="191" y="303" width="3" height="5" fill="#fff" />
<rect x="191" y="318" width="3" height="5" fill="#fff" />
<rect x="197" y="303" width="3" height="5" fill="#fff" />
<rect x="197" y="318" width="3" height="5" fill="#fff" />
<rect x="203" y="303" width="3" height="5" fill="#fff" />
<rect x="203" y="318" width="3" height="5" fill="#fff" />
<rect x="209" y="303" width="3" height="5" fill="#fff" />
<rect x="209" y="318" width="3" height="5" fill="#fff" />
<rect x="215" y="303" width="3" height="5" fill="#fff" />
<rect x="215" y="318" width="3" height="5" fill="#fff" />
<rect x="221" y="303" width="3" height="5" fill="#fff" />
<rect x="221" y="318" width="3" height="5" fill="#fff" />
<rect x="227" y="303" width="3" height="5" fill="#fff" />
<rect x="227" y="318" width="3" height="5" fill="#fff" />
<rect x="233" y="303" width="3" height="5" fill="#fff" />
<rect x="233" y="318" width="3" height="5" fill="#fff" />
<rect x="161" y="310" width="34" height="6" fill="#fff" />
<rect x="200" y="310" width="33" height="6" fill="#fff" />
<path d="M154,311 L157,313 L154,315 Z" fill="#fff" stroke="none" stroke-width="1" />
<rect x="64" y="327" width="84" height="24" fill="#000" />
<rect x="66" y="329" width="4" height="5" fill="#fff" />
<rect x="67" y="344" width="3" height="5" fill="#fff" />
<rect x="72" y="329" width="3" height="5" fill="#fff" />
<rect x="72" y="344" width="3" height="5" fill="#fff" />
<rect x="78" y="329" width="3" height="5" fill="#fff" />
<rect x="78" y="344" width="3" height="5" fill="#fff" />
<rect x="84" y="329" width="3" height="5" fill="#fff" />
<rect x="84" y="344" width="3" height="5" fill="#fff" />
<rect x="90" y="329" width="3" height="5" fill="#fff" />
<rect x="90" y="344" width="3" height="5" fill="#fff" />
<rect x="96" y="329" width="3" height="5" fill="#fff" />
<rect x="96" y="344" width="3" height="5" fill="#fff" />
<rect x="101" y="329" width="3" height="5" fill="#fff" />
<rect x="101" y="344" width="3" height="5" fill="#fff" />
<rect x="107" y="329" width="3" height="5" fill="#fff" />
<rect x="107" y="344" width="3" height="5" fill="#fff" />
<rect x="113" y="329" width="3" height="5" fill="#fff" />
<rect x="113" y="344" width="3" height="5" fill="#fff" />
<rect x="119" y="329" width="3" height="5" fill="#fff" />
<rect x="119" y="344" width="3" height="5" fill="#fff" />
<rect x="125" y="329" width="3" height="5" fill="#fff" />
<rect x="125" y="344" width="3" height="5" fill="#fff" />
<rect x="131" y="329" width="3" height="5" fill="#fff" />
<rect x="131" y="344" width="3" height="5" fill="#fff" />
<rect x="137" y="329" width="3" height="5" fill="#fff" />
<rect x="137" y="344" width="3" height="5" fill="#fff" />
<rect x="143" y="329" width="3" height="5" fill="#fff" />
<rect x="143" y="344" width="3" height="5" fill="#fff" />
<rect x="71" y="336" width="34" height="6" fill="#fff" />
<rect x="110" y="336" width="33" height="6" fill="#fff" />
<path d="M64,337 L67,339 L64,341 Z" fill="#fff" stroke="none" stroke-width="1" />
<rect x="154" y="327" width="84" height="24" fill="#000" />
<rect x="156" y="329" width="4" height="5" fill="#fff" />
<rect x="157" y="344" width="3" height="5" fill="#fff" />
<rect x="162" y="329" width="3" height="5" fill="#fff" />
<rect x="162" y="344" width="3" height="5" fill="#fff" />
<rect x="168" y="329" width="3" height="5" fill="#fff" />
<rect x="168" y="344" width="3" height="5" fill="#fff" />
<rect x="174" y="329" width="3" height="5" fill="#fff" />
<rect x="174" y="344" width="3" height="5" fill="#fff" />
<rect x="180" y="329" width="3" height="5" fill="#fff" />
<rect x="180" y="344" width="3" height="5" fill="#fff" />
<rect x="186" y="329" width="3" height="5" fill="#fff" />
<rect x="186" y="344" width="3" height="5" fill="#fff" />
<rect x="191" y="329" width="3" height="5" fill="#fff" />
<rect x="191" y="344" width="3" height="5" fill="#fff" />
<rect x="197" y="329" width="3" height="5" fill="#fff" />
<rect x="197" y="344" width="3" height="5" fill="#fff" />
<rect x="203" y="329" width="3" height="5" fill="#fff" />
<rect x="203" y="344" width="3" height="5" fill="#fff" />
<rect x="209" y="329" width="3" height="5" fill="#fff" />
<rect x="209" y="344" width="3" height="5" fill="#fff" />
<rect x="215" y="329" width="3" height="5" fill="#fff" />
<rect x="215" y="344" width="3" height="5" fill="#fff" />
<rect x="221" y="329" width="3" height="5" fill="#fff" />
<rect x="221" y="344" width="3" height="5" fill="#fff" />
<rect x="227" y="329" width="3" height="5" fill="#fff" />
<rect x="227" y="344" width="3" height="5" fill="#fff" />
<rect x="233" y="329" width="3" height="5" fill="#fff" />
<rect x="233" y="344" width="3" height="5" fill="#fff" />
<rect x="161" y="336" width="34" height="6" fill="#fff" />
<rect x="200" y="336" width="33" height="6" fill="#fff" />
<path d="M154,337 L157,339 L154,341 Z" fill="#fff" stroke="none" stroke-width="1" />
<rect x="127" y="292" width="48" height="16" fill="#000" />
<rect x="128" y="293" width="46" height="13.5" fill="#fff" />
<path transform="translate(129.50,294.50) scale(0.8621,0.8889)" d="M5.8,2.4 Q5.4,0 3,0 Q0,0 0,4.5 Q0,9 3,9 Q5.4,9 5.8,6.6" fill="none" stroke="#000" stroke-width="1.05" vector-effect="non-scaling-stroke" stroke-linecap="square" stroke-linejoin="round"/>
<path transform="translate(137.50,294.50) scale(0.9722,0.8889)" d="M0,9 L3.6,0 L7.2,9 M1.3,5.9 L5.9,5.9" fill="none" stroke="#000" stroke-width="1.05" vector-effect="non-scaling-stroke" stroke-linecap="square" stroke-linejoin="round"/>
<path transform="translate(147.50,294.50) scale(0.8621,0.8889)" d="M5.8,2.4 Q5.4,0 3,0 Q0,0 0,4.5 Q0,9 3,9 Q5.4,9 5.8,6.6" fill="none" stroke="#000" stroke-width="1.05" vector-effect="non-scaling-stroke" stroke-linecap="square" stroke-linejoin="round"/>
<path transform="translate(158.50,294.50) scale(1.0000,0.8889)" d="M0,0 L0,9 M6,0 L6,9 M0,4.3 L6,4.3" fill="none" stroke="#000" stroke-width="1.05" vector-effect="non-scaling-stroke" stroke-linecap="square" stroke-linejoin="round"/>
<path transform="translate(167.50,294.50) scale(0.8333,0.8889)" d="M4.6,0 L0,0 L0,9 L4.8,9 M0,4.3 L4.1,4.3" fill="none" stroke="#000" stroke-width="1.05" vector-effect="non-scaling-stroke" stroke-linecap="square" stroke-linejoin="round"/>
<rect x="45" y="250" width="7" height="13" fill="#000" />
<rect x="47" y="251" width="4" height="11" fill="#fff" />
<rect x="48" y="252" width="3" height="4" fill="#000" />
<rect x="48" y="257" width="3" height="4" fill="#000" />
<rect x="45" y="270" width="7" height="13" fill="#000" />
<rect x="46" y="271" width="1" height="11" fill="#fff" />
<rect x="47" y="276" width="3" height="1" fill="#fff" />
<rect x="45" y="290" width="7" height="13" fill="#000" />
<rect x="46" y="291" width="1" height="11" fill="#fff" />
<rect x="47" y="296" width="3" height="1" fill="#fff" />
<rect x="45" y="318" width="7" height="13" fill="#000" />
<rect x="47" y="319" width="4" height="11" fill="#fff" />
<rect x="48" y="320" width="3" height="4" fill="#000" />
<rect x="48" y="325" width="3" height="4" fill="#000" />
<path d="M32.70,248.94 L45.5,257 L36.30,246.06" fill="#fff" stroke="#000" stroke-width="2.2" stroke-linejoin="round" stroke-linecap="round"/>
<rect x="5" y="233" width="33" height="17.4" rx="4" ry="4" fill="#000" style="shape-rendering:auto"/>
<rect x="7.3" y="234.7" width="28.7" height="13.4" rx="2" ry="2" fill="#fff" style="shape-rendering:auto"/>
<path d="M33.1,246.9 L39.5,251.8" fill="none" stroke="#fff" stroke-width="0.9" />
<path transform="translate(9.50,235.50) scale(0.9524,0.8889)" d="M4.2,0 L4.2,6.8 Q4.2,9 2.1,9 Q0,9 0,6.6" fill="none" stroke="#000" stroke-width="1.05" vector-effect="non-scaling-stroke" stroke-linecap="square" stroke-linejoin="round"/>
<path transform="translate(16.50,235.50) scale(1.0000,0.8889)" d="M0.2,2.4 Q0.4,0 2.5,0 Q4.8,0 4.8,2.3 Q4.8,4 2.7,5.5 Q0.3,7.2 0,9 L5,9" fill="none" stroke="#000" stroke-width="1.05" vector-effect="non-scaling-stroke" stroke-linecap="square" stroke-linejoin="round"/>
<path transform="translate(24.50,235.50) scale(1.0000,0.8889)" d="M4.6,0 L0.8,0 L0.4,4.1 Q1.3,3.2 2.6,3.2 Q5,3.2 5,6 Q5,9 2.5,9 Q0.5,9 0,7.3" fill="none" stroke="#000" stroke-width="1.05" vector-effect="non-scaling-stroke" stroke-linecap="square" stroke-linejoin="round"/>
<path d="M32.70,268.94 L45.5,277 L36.30,266.06" fill="#fff" stroke="#000" stroke-width="2.2" stroke-linejoin="round" stroke-linecap="round"/>
<rect x="5" y="253" width="33" height="17.6" rx="4" ry="4" fill="#000" style="shape-rendering:auto"/>
<rect x="7.3" y="254.7" width="28.7" height="13.6" rx="2" ry="2" fill="#fff" style="shape-rendering:auto"/>
<path d="M33.1,266.9 L39.5,271.8" fill="none" stroke="#fff" stroke-width="0.9" />
<path transform="translate(9.50,255.50) scale(0.9524,1.0000)" d="M4.2,0 L4.2,6.8 Q4.2,9 2.1,9 Q0,9 0,6.6" fill="none" stroke="#000" stroke-width="1.05" vector-effect="non-scaling-stroke" stroke-linecap="square" stroke-linejoin="round"/>
<path transform="translate(16.50,255.50) scale(1.0000,1.0000)" d="M0.2,2.4 Q0.4,0 2.5,0 Q4.8,0 4.8,2.3 Q4.8,4 2.7,5.5 Q0.3,7.2 0,9 L5,9" fill="none" stroke="#000" stroke-width="1.05" vector-effect="non-scaling-stroke" stroke-linecap="square" stroke-linejoin="round"/>
<path transform="translate(24.50,255.50) scale(1.0000,1.0000)" d="M4.7,1.9 Q4.4,0 2.5,0 Q0,0 0,4.5 L0,6.2 Q0,9 2.5,9 Q5,9 5,6.2 Q5,3.6 2.5,3.6 Q0.4,3.6 0,6" fill="none" stroke="#000" stroke-width="1.05" vector-effect="non-scaling-stroke" stroke-linecap="square" stroke-linejoin="round"/>
<path d="M32.70,289.94 L45.5,297 L36.30,287.06" fill="#fff" stroke="#000" stroke-width="2.2" stroke-linejoin="round" stroke-linecap="round"/>
<rect x="5" y="273.7" width="33" height="17.6" rx="4" ry="4" fill="#000" style="shape-rendering:auto"/>
<rect x="7.3" y="275.4" width="28.7" height="13.6" rx="2" ry="2" fill="#fff" style="shape-rendering:auto"/>
<path d="M33.1,287.9 L39.5,292.3" fill="none" stroke="#fff" stroke-width="0.9" />
<path transform="translate(9.50,276.50) scale(0.9524,0.8889)" d="M4.2,0 L4.2,6.8 Q4.2,9 2.1,9 Q0,9 0,6.6" fill="none" stroke="#000" stroke-width="1.05" vector-effect="non-scaling-stroke" stroke-linecap="square" stroke-linejoin="round"/>
<path transform="translate(16.50,276.50) scale(1.0000,0.8889)" d="M0.2,2.4 Q0.4,0 2.5,0 Q4.8,0 4.8,2.3 Q4.8,4 2.7,5.5 Q0.3,7.2 0,9 L5,9" fill="none" stroke="#000" stroke-width="1.05" vector-effect="non-scaling-stroke" stroke-linecap="square" stroke-linejoin="round"/>
<path transform="translate(24.50,276.50) scale(1.0000,0.8889)" d="M0,0 L5,0 Q2.3,4 1.7,9" fill="none" stroke="#000" stroke-width="1.05" vector-effect="non-scaling-stroke" stroke-linecap="square" stroke-linejoin="round"/>
<path d="M32.70,317.44 L45.5,326 L36.30,314.56" fill="#fff" stroke="#000" stroke-width="2.2" stroke-linejoin="round" stroke-linecap="round"/>
<rect x="5" y="301.2" width="33" height="17.8" rx="4" ry="4" fill="#000" style="shape-rendering:auto"/>
<rect x="7.3" y="302.9" width="28.7" height="13.8" rx="2" ry="2" fill="#fff" style="shape-rendering:auto"/>
<path d="M33.1,315.4 L39.5,320.5" fill="none" stroke="#fff" stroke-width="0.9" />
<path transform="translate(9.50,304.50) scale(0.9524,0.8889)" d="M4.2,0 L4.2,6.8 Q4.2,9 2.1,9 Q0,9 0,6.6" fill="none" stroke="#000" stroke-width="1.05" vector-effect="non-scaling-stroke" stroke-linecap="square" stroke-linejoin="round"/>
<path transform="translate(16.50,304.50) scale(1.0000,0.8889)" d="M0.2,2.4 Q0.4,0 2.5,0 Q4.8,0 4.8,2.3 Q4.8,4 2.7,5.5 Q0.3,7.2 0,9 L5,9" fill="none" stroke="#000" stroke-width="1.05" vector-effect="non-scaling-stroke" stroke-linecap="square" stroke-linejoin="round"/>
<path transform="translate(24.50,304.50) scale(1.0000,0.8889)" d="M2.5,4.2 Q0.4,4.2 0.4,2.1 Q0.4,0 2.5,0 Q4.6,0 4.6,2.1 Q4.6,4.2 2.5,4.2 Q0,4.2 0,6.6 Q0,9 2.5,9 Q5,9 5,6.6 Q5,4.2 2.5,4.2" fill="none" stroke="#000" stroke-width="1.05" vector-effect="non-scaling-stroke" stroke-linecap="square" stroke-linejoin="round"/>
<path d="M297,87 L353,87 L353,88 L356,88 L356,90 L359,90 L359,150 L356,150 L356,152 L296,152 L296,150 L293,150 L293,93 L296,93 L296,88 L297,88 Z" fill="#000" stroke="none" stroke-width="1" shape-rendering="crispEdges"/>
<rect x="293" y="100" width="3" height="1" fill="#fff" />
<rect x="293" y="103" width="3" height="1" fill="#fff" />
<rect x="293" y="106" width="3" height="1" fill="#fff" />
<rect x="293" y="121" width="3" height="1" fill="#fff" />
<rect x="293" y="124" width="3" height="1" fill="#fff" />
<rect x="293" y="127" width="3" height="1" fill="#fff" />
<rect x="293" y="137" width="3" height="1" fill="#fff" />
<rect x="293" y="140" width="3" height="1" fill="#fff" />
<rect x="293" y="143" width="3" height="1" fill="#fff" />
<rect x="356" y="91" width="3" height="1" fill="#fff" />
<rect x="356" y="94" width="3" height="1" fill="#fff" />
<rect x="356" y="97" width="3" height="1" fill="#fff" />
<rect x="356" y="109" width="3" height="1" fill="#fff" />
<rect x="356" y="112" width="3" height="1" fill="#fff" />
<rect x="356" y="116" width="3" height="1" fill="#fff" />
<rect x="356" y="126" width="3" height="1" fill="#fff" />
<rect x="356" y="129" width="3" height="1" fill="#fff" />
<rect x="356" y="132" width="3" height="1" fill="#fff" />
<rect x="356" y="143" width="3" height="1" fill="#fff" />
<rect x="307" y="87" width="1" height="2" fill="#fff" />
<rect x="310" y="87" width="1" height="2" fill="#fff" />
<rect x="313" y="87" width="1" height="2" fill="#fff" />
<rect x="324" y="87" width="1" height="2" fill="#fff" />
<rect x="328" y="87" width="1" height="2" fill="#fff" />
<rect x="331" y="87" width="1" height="2" fill="#fff" />
<rect x="341" y="87" width="1" height="2" fill="#fff" />
<rect x="344" y="87" width="1" height="2" fill="#fff" />
<rect x="347" y="87" width="1" height="2" fill="#fff" />
<rect x="299" y="150" width="1" height="2" fill="#fff" />
<rect x="302" y="150" width="1" height="2" fill="#fff" />
<rect x="312" y="150" width="1" height="2" fill="#fff" />
<rect x="315" y="150" width="1" height="2" fill="#fff" />
<rect x="318" y="150" width="1" height="2" fill="#fff" />
<rect x="329" y="150" width="1" height="2" fill="#fff" />
<rect x="332" y="150" width="1" height="2" fill="#fff" />
<rect x="336" y="150" width="1" height="2" fill="#fff" />
<rect x="346" y="150" width="1" height="2" fill="#fff" />
<rect x="349" y="150" width="1" height="2" fill="#fff" />
<circle cx="349" cy="142.5" r="2.5" fill="#fff"/>
<path d="M297,195 L353,195 L353,196 L356,196 L356,198 L359,198 L359,258 L356,258 L356,260 L296,260 L296,258 L293,258 L293,201 L296,201 L296,196 L297,196 Z" fill="#000" stroke="none" stroke-width="1" shape-rendering="crispEdges"/>
<rect x="293" y="203" width="3" height="1" fill="#fff" />
<rect x="293" y="206" width="3" height="1" fill="#fff" />
<rect x="293" y="209" width="3" height="1" fill="#fff" />
<rect x="293" y="221" width="3" height="1" fill="#fff" />
<rect x="293" y="224" width="3" height="1" fill="#fff" />
<rect x="293" y="227" width="3" height="1" fill="#fff" />
<rect x="293" y="237" width="3" height="1" fill="#fff" />
<rect x="293" y="240" width="3" height="1" fill="#fff" />
<rect x="293" y="243" width="3" height="1" fill="#fff" />
<rect x="356" y="199" width="3" height="1" fill="#fff" />
<rect x="356" y="202" width="3" height="1" fill="#fff" />
<rect x="356" y="216" width="3" height="1" fill="#fff" />
<rect x="356" y="219" width="3" height="1" fill="#fff" />
<rect x="356" y="222" width="3" height="1" fill="#fff" />
<rect x="356" y="232" width="3" height="1" fill="#fff" />
<rect x="356" y="236" width="3" height="1" fill="#fff" />
<rect x="356" y="239" width="3" height="1" fill="#fff" />
<rect x="356" y="249" width="3" height="1" fill="#fff" />
<rect x="301" y="195" width="1" height="2" fill="#fff" />
<rect x="304" y="195" width="1" height="2" fill="#fff" />
<rect x="307" y="195" width="1" height="2" fill="#fff" />
<rect x="310" y="195" width="1" height="2" fill="#fff" />
<rect x="321" y="195" width="1" height="2" fill="#fff" />
<rect x="324" y="195" width="1" height="2" fill="#fff" />
<rect x="327" y="195" width="1" height="2" fill="#fff" />
<rect x="338" y="195" width="1" height="2" fill="#fff" />
<rect x="341" y="195" width="1" height="2" fill="#fff" />
<rect x="344" y="195" width="1" height="2" fill="#fff" />
<rect x="348" y="195" width="1" height="2" fill="#fff" />
<rect x="302" y="258" width="1" height="2" fill="#fff" />
<rect x="305" y="258" width="1" height="2" fill="#fff" />
<rect x="308" y="258" width="1" height="2" fill="#fff" />
<rect x="319" y="258" width="1" height="2" fill="#fff" />
<rect x="322" y="258" width="1" height="2" fill="#fff" />
<rect x="325" y="258" width="1" height="2" fill="#fff" />
<rect x="336" y="258" width="1" height="2" fill="#fff" />
<rect x="340" y="258" width="1" height="2" fill="#fff" />
<rect x="343" y="258" width="1" height="2" fill="#fff" />
<circle cx="302" cy="251" r="2.5" fill="#fff"/>
<path d="M424,369 L480,369 L480,370 L483,370 L483,372 L486,372 L486,433 L483,433 L483,435 L423,435 L423,433 L420,433 L420,375 L423,375 L423,370 L424,370 Z" fill="#000" stroke="none" stroke-width="1" shape-rendering="crispEdges"/>
<rect x="420" y="376" width="3" height="1" fill="#fff" />
<rect x="420" y="379" width="3" height="1" fill="#fff" />
<rect x="420" y="382" width="3" height="1" fill="#fff" />
<rect x="420" y="392" width="3" height="1" fill="#fff" />
<rect x="420" y="395" width="3" height="1" fill="#fff" />
<rect x="420" y="398" width="3" height="1" fill="#fff" />
<rect x="420" y="408" width="3" height="1" fill="#fff" />
<rect x="420" y="412" width="3" height="1" fill="#fff" />
<rect x="420" y="415" width="3" height="1" fill="#fff" />
<rect x="420" y="426" width="3" height="1" fill="#fff" />
<rect x="420" y="429" width="3" height="1" fill="#fff" />
<rect x="483" y="386" width="3" height="1" fill="#fff" />
<rect x="483" y="389" width="3" height="1" fill="#fff" />
<rect x="483" y="392" width="3" height="1" fill="#fff" />
<rect x="483" y="403" width="3" height="1" fill="#fff" />
<rect x="483" y="406" width="3" height="1" fill="#fff" />
<rect x="483" y="409" width="3" height="1" fill="#fff" />
<rect x="483" y="420" width="3" height="1" fill="#fff" />
<rect x="483" y="423" width="3" height="1" fill="#fff" />
<rect x="483" y="426" width="3" height="1" fill="#fff" />
<rect x="437" y="369" width="1" height="2" fill="#fff" />
<rect x="440" y="369" width="1" height="2" fill="#fff" />
<rect x="443" y="369" width="1" height="2" fill="#fff" />
<rect x="454" y="369" width="1" height="2" fill="#fff" />
<rect x="457" y="369" width="1" height="2" fill="#fff" />
<rect x="460" y="369" width="1" height="2" fill="#fff" />
<rect x="474" y="369" width="1" height="2" fill="#fff" />
<rect x="477" y="369" width="1" height="2" fill="#fff" />
<rect x="425" y="433" width="1" height="2" fill="#fff" />
<rect x="428" y="433" width="1" height="2" fill="#fff" />
<rect x="431" y="433" width="1" height="2" fill="#fff" />
<rect x="442" y="433" width="1" height="2" fill="#fff" />
<rect x="445" y="433" width="1" height="2" fill="#fff" />
<rect x="448" y="433" width="1" height="2" fill="#fff" />
<rect x="459" y="433" width="1" height="2" fill="#fff" />
<rect x="462" y="433" width="1" height="2" fill="#fff" />
<rect x="465" y="433" width="1" height="2" fill="#fff" />
<circle cx="476.5" cy="378.5" r="2.5" fill="#fff"/>
<rect x="531" y="23" width="202" height="20" fill="#000" />
<rect x="539" y="30" width="186" height="6" fill="#fff" />
<rect x="531" y="68" width="202" height="20" fill="#000" />
<rect x="539" y="75" width="186" height="6" fill="#fff" />
<rect x="531" y="112" width="202" height="20" fill="#000" />
<rect x="539" y="119" width="186" height="6" fill="#fff" />
<rect x="531" y="156" width="202" height="20" fill="#000" />
<rect x="539" y="163" width="186" height="6" fill="#fff" />
<rect x="531" y="199" width="202" height="20" fill="#000" />
<rect x="539" y="206" width="186" height="6" fill="#fff" />
<rect x="531" y="244" width="202" height="20" fill="#000" />
<rect x="539" y="251" width="186" height="6" fill="#fff" />
<rect x="531" y="288" width="202" height="20" fill="#000" />
<rect x="539" y="295" width="186" height="6" fill="#fff" />
<rect x="531" y="333" width="202" height="20" fill="#000" />
<rect x="539" y="340" width="186" height="6" fill="#fff" />
<rect x="392" y="68" width="129" height="20" fill="#000" />
<rect x="400" y="75" width="113" height="6" fill="#fff" />
<rect x="392" y="112" width="129" height="20" fill="#000" />
<rect x="400" y="119" width="113" height="6" fill="#fff" />
<rect x="392" y="156" width="129" height="20" fill="#000" />
<rect x="400" y="163" width="113" height="6" fill="#fff" />
<rect x="392" y="199" width="129" height="20" fill="#000" />
<rect x="400" y="206" width="113" height="6" fill="#fff" />
<rect x="392" y="244" width="129" height="20" fill="#000" />
<rect x="400" y="251" width="113" height="6" fill="#fff" />
<path transform="translate(604.50,49.50) scale(0.9375,0.7778)" d="M0,9 L0,0 L3.2,9 L6.4,0 L6.4,9" fill="none" stroke="#000" stroke-width="1.05" vector-effect="non-scaling-stroke" stroke-linecap="square" stroke-linejoin="round"/>
<path transform="translate(612.50,49.50) scale(0.8333,0.7778)" d="M0,0 L0,9 M6,0 L6,9 M0,4.3 L6,4.3" fill="none" stroke="#000" stroke-width="1.05" vector-effect="non-scaling-stroke" stroke-linecap="square" stroke-linejoin="round"/>
<path transform="translate(621.50,50.50) scale(0.8000,0.6667)" d="M2.5,0 Q5,0 5,4.5 Q5,9 2.5,9 Q0,9 0,4.5 Q0,0 2.5,0 Z" fill="none" stroke="#000" stroke-width="1.05" vector-effect="non-scaling-stroke" stroke-linecap="square" stroke-linejoin="round"/>
<path transform="translate(627.50,50.50) scale(0.8000,0.6667)" d="M4.6,0 L0.8,0 L0.4,4.1 Q1.3,3.2 2.6,3.2 Q5,3.2 5,6 Q5,9 2.5,9 Q0.5,9 0,7.3" fill="none" stroke="#000" stroke-width="1.05" vector-effect="non-scaling-stroke" stroke-linecap="square" stroke-linejoin="round"/>
<path transform="translate(634.50,50.50) scale(0.8000,0.6667)" d="M4.6,0 L0.8,0 L0.4,4.1 Q1.3,3.2 2.6,3.2 Q5,3.2 5,6 Q5,9 2.5,9 Q0.5,9 0,7.3" fill="none" stroke="#000" stroke-width="1.05" vector-effect="non-scaling-stroke" stroke-linecap="square" stroke-linejoin="round"/>
<path transform="translate(641.50,50.50) scale(0.9375,0.6667)" d="M0,2.2 L1.6,2.0 Q3.2,1.6 3.2,0 L3.2,9" fill="none" stroke="#000" stroke-width="1.05" vector-effect="non-scaling-stroke" stroke-linecap="square" stroke-linejoin="round"/>
<rect x="471.5" y="268.5" width="48" height="26" fill="#fff" stroke="#000" stroke-width="1"/>
<rect x="472.5" y="269.5" width="46" height="24" rx="4" ry="4" fill="#fff" stroke="#000" stroke-width="0.6"/>
<rect x="28" y="394" width="84" height="24" fill="#000" />
<rect x="30" y="396" width="4" height="5" fill="#fff" />
<rect x="30" y="411" width="4" height="5" fill="#fff" />
<rect x="36" y="396" width="3" height="5" fill="#fff" />
<rect x="36" y="411" width="3" height="5" fill="#fff" />
<rect x="42" y="396" width="3" height="5" fill="#fff" />
<rect x="42" y="411" width="3" height="5" fill="#fff" />
<rect x="48" y="396" width="3" height="5" fill="#fff" />
<rect x="48" y="411" width="3" height="5" fill="#fff" />
<rect x="89" y="396" width="3" height="5" fill="#fff" />
<rect x="89" y="411" width="3" height="5" fill="#fff" />
<rect x="95" y="396" width="3" height="5" fill="#fff" />
<rect x="95" y="411" width="3" height="5" fill="#fff" />
<rect x="101" y="396" width="3" height="5" fill="#fff" />
<rect x="101" y="411" width="3" height="5" fill="#fff" />
<rect x="107" y="396" width="3" height="5" fill="#fff" />
<rect x="107" y="411" width="3" height="5" fill="#fff" />
<rect x="33" y="403" width="19" height="5" fill="#fff" />
<rect x="85" y="403" width="22" height="5" fill="#fff" />
<rect x="110" y="403" width="2" height="5" fill="#fff" />
<rect x="54" y="397" width="29" height="16" rx="3" ry="3" fill="#fff"/>
<path transform="translate(57.50,399.50) scale(1.0000,0.8889)" d="M0,0 L0,6.2 Q0,9 3,9 Q6,9 6,6.2 L6,0" fill="none" stroke="#000" stroke-width="1.05" vector-effect="non-scaling-stroke" stroke-linecap="square" stroke-linejoin="round"/>
<path transform="translate(67.50,399.50) scale(0.9375,0.8889)" d="M0,2.2 L1.6,2.0 Q3.2,1.6 3.2,0 L3.2,9" fill="none" stroke="#000" stroke-width="1.05" vector-effect="non-scaling-stroke" stroke-linecap="square" stroke-linejoin="round"/>
<path transform="translate(73.50,399.50) scale(1.0000,0.8889)" d="M4.6,0 L0.8,0 L0.4,4.1 Q1.3,3.2 2.6,3.2 Q5,3.2 5,6 Q5,9 2.5,9 Q0.5,9 0,7.3" fill="none" stroke="#000" stroke-width="1.05" vector-effect="non-scaling-stroke" stroke-linecap="square" stroke-linejoin="round"/>
<rect x="28" y="432" width="84" height="24" fill="#000" />
<rect x="30" y="434" width="4" height="5" fill="#fff" />
<rect x="30" y="449" width="4" height="5" fill="#fff" />
<rect x="36" y="434" width="3" height="5" fill="#fff" />
<rect x="36" y="449" width="3" height="5" fill="#fff" />
<rect x="42" y="434" width="3" height="5" fill="#fff" />
<rect x="42" y="449" width="3" height="5" fill="#fff" />
<rect x="48" y="434" width="3" height="5" fill="#fff" />
<rect x="48" y="449" width="3" height="5" fill="#fff" />
<rect x="89" y="434" width="3" height="5" fill="#fff" />
<rect x="89" y="449" width="3" height="5" fill="#fff" />
<rect x="95" y="434" width="3" height="5" fill="#fff" />
<rect x="95" y="449" width="3" height="5" fill="#fff" />
<rect x="101" y="434" width="3" height="5" fill="#fff" />
<rect x="101" y="449" width="3" height="5" fill="#fff" />
<rect x="107" y="434" width="3" height="5" fill="#fff" />
<rect x="107" y="449" width="3" height="5" fill="#fff" />
<rect x="33" y="441" width="19" height="5" fill="#fff" />
<rect x="87" y="441" width="20" height="5" fill="#fff" />
<rect x="110" y="441" width="2" height="5" fill="#fff" />
<rect x="54" y="436" width="31" height="16" rx="3" ry="3" fill="#fff"/>
<path transform="translate(58.50,438.50) scale(0.8333,0.8889)" d="M0,0 L0,6.2 Q0,9 3,9 Q6,9 6,6.2 L6,0" fill="none" stroke="#000" stroke-width="1.05" vector-effect="non-scaling-stroke" stroke-linecap="square" stroke-linejoin="round"/>
<path transform="translate(67.50,438.50) scale(0.9375,0.8889)" d="M0,2.2 L1.6,2.0 Q3.2,1.6 3.2,0 L3.2,9" fill="none" stroke="#000" stroke-width="1.05" vector-effect="non-scaling-stroke" stroke-linecap="square" stroke-linejoin="round"/>
<path transform="translate(72.50,438.50) scale(1.1111,0.8889)" d="M4,9 L4,0 L0,6.4 L5.4,6.4" fill="none" stroke="#000" stroke-width="1.05" vector-effect="non-scaling-stroke" stroke-linecap="square" stroke-linejoin="round"/>
<rect x="28" y="470" width="84" height="24" fill="#000" />
<rect x="30" y="472" width="4" height="5" fill="#fff" />
<rect x="30" y="487" width="4" height="5" fill="#fff" />
<rect x="36" y="472" width="3" height="5" fill="#fff" />
<rect x="36" y="487" width="3" height="5" fill="#fff" />
<rect x="42" y="472" width="3" height="5" fill="#fff" />
<rect x="42" y="487" width="3" height="5" fill="#fff" />
<rect x="48" y="472" width="3" height="5" fill="#fff" />
<rect x="48" y="487" width="3" height="5" fill="#fff" />
<rect x="54" y="472" width="3" height="5" fill="#fff" />
<rect x="54" y="487" width="3" height="5" fill="#fff" />
<rect x="83" y="472" width="3" height="5" fill="#fff" />
<rect x="83" y="487" width="3" height="5" fill="#fff" />
<rect x="89" y="472" width="3" height="5" fill="#fff" />
<rect x="89" y="487" width="3" height="5" fill="#fff" />
<rect x="95" y="472" width="3" height="5" fill="#fff" />
<rect x="95" y="487" width="3" height="5" fill="#fff" />
<rect x="101" y="472" width="3" height="5" fill="#fff" />
<rect x="101" y="487" width="3" height="5" fill="#fff" />
<rect x="107" y="472" width="3" height="5" fill="#fff" />
<rect x="107" y="487" width="3" height="5" fill="#fff" />
<rect x="33" y="479" width="24" height="5" fill="#fff" />
<rect x="82" y="479" width="25" height="5" fill="#fff" />
<rect x="110" y="479" width="2" height="5" fill="#fff" />
<rect x="59" y="474" width="21" height="15" rx="3" ry="3" fill="#fff"/>
<path transform="translate(62.50,475.50) scale(0.8333,0.8889)" d="M0,0 L0,6.2 Q0,9 3,9 Q6,9 6,6.2 L6,0" fill="none" stroke="#000" stroke-width="1.05" vector-effect="non-scaling-stroke" stroke-linecap="square" stroke-linejoin="round"/>
<path transform="translate(70.50,475.50) scale(1.0000,0.8889)" d="M2.5,4.2 Q0.4,4.2 0.4,2.1 Q0.4,0 2.5,0 Q4.6,0 4.6,2.1 Q4.6,4.2 2.5,4.2 Q0,4.2 0,6.6 Q0,9 2.5,9 Q5,9 5,6.6 Q5,4.2 2.5,4.2" fill="none" stroke="#000" stroke-width="1.05" vector-effect="non-scaling-stroke" stroke-linecap="square" stroke-linejoin="round"/>
<rect x="93" y="385" width="19" height="7" fill="#000" />
<rect x="94" y="390" width="17" height="1" fill="#fff" />
<rect x="99" y="386" width="1" height="4" fill="#fff" />
<rect x="105" y="386" width="1" height="4" fill="#fff" />
<rect x="106" y="386" width="5" height="4" fill="#fff" />
<rect x="107" y="387" width="2" height="2" fill="#000" />
<rect x="93" y="421" width="19" height="7" fill="#000" />
<rect x="98" y="422" width="1" height="5" fill="#fff" />
<rect x="104" y="422" width="2" height="5" fill="#fff" />
<rect x="106" y="422" width="3" height="5" fill="#fff" />
<rect x="107" y="423" width="2" height="3" fill="#000" />
<rect x="110" y="422" width="1" height="5" fill="#fff" />
<path d="M74.00,422.12 L91,425 L74.00,427.88" fill="#fff" stroke="#000" stroke-width="1.5" stroke-linejoin="round" stroke-linecap="round"/>
<rect x="42.4" y="418.3" width="31.7" height="13.1" rx="3" ry="3" fill="#fff" stroke="#000" stroke-width="1.3" style="shape-rendering:auto"/>
<path d="M72.5,425.0 L81.7,425.0" fill="none" stroke="#fff" stroke-width="0.9" />
<path transform="translate(45.50,420.50) scale(0.9524,0.8889)" d="M4.2,0 L4.2,6.8 Q4.2,9 2.1,9 Q0,9 0,6.6" fill="none" stroke="#000" stroke-width="1.05" vector-effect="non-scaling-stroke" stroke-linecap="square" stroke-linejoin="round"/>
<path transform="translate(53.50,420.50) scale(1.0000,0.8889)" d="M0.2,2 Q0.5,0 2.5,0 Q4.7,0 4.7,2.1 Q4.7,4.2 2.2,4.2 Q5,4.2 5,6.6 Q5,9 2.5,9 Q0.4,9 0,7" fill="none" stroke="#000" stroke-width="1.05" vector-effect="non-scaling-stroke" stroke-linecap="square" stroke-linejoin="round"/>
<path transform="translate(61.50,420.50) scale(1.0000,0.8889)" d="M0.2,2 Q0.5,0 2.5,0 Q4.7,0 4.7,2.1 Q4.7,4.2 2.2,4.2 Q5,4.2 5,6.6 Q5,9 2.5,9 Q0.4,9 0,7" fill="none" stroke="#000" stroke-width="1.05" vector-effect="non-scaling-stroke" stroke-linecap="square" stroke-linejoin="round"/>
<rect x="98" y="500" width="14" height="7" fill="#000" />
<rect x="99" y="501" width="11" height="5" fill="#fff" />
<rect x="100" y="501" width="3" height="5" fill="#000" />
<rect x="105" y="501" width="3" height="5" fill="#000" />
<path d="M129.00,501.70 L114,503.5 L129.00,505.30" fill="#fff" stroke="#000" stroke-width="2.2" stroke-linejoin="round" stroke-linecap="round"/>
<rect x="128" y="495" width="36" height="17" rx="4" ry="4" fill="#000" style="shape-rendering:auto"/>
<rect x="130.3" y="496.7" width="31.7" height="13" rx="2" ry="2" fill="#fff" style="shape-rendering:auto"/>
<path d="M130.5,503.5 L122.2,503.5" fill="none" stroke="#fff" stroke-width="0.9" />
<path transform="translate(133.50,498.50) scale(0.9524,0.8889)" d="M4.2,0 L4.2,6.8 Q4.2,9 2.1,9 Q0,9 0,6.6" fill="none" stroke="#000" stroke-width="1.05" vector-effect="non-scaling-stroke" stroke-linecap="square" stroke-linejoin="round"/>
<path transform="translate(140.50,498.50) scale(1.0000,0.8889)" d="M0.2,2.4 Q0.4,0 2.5,0 Q4.8,0 4.8,2.3 Q4.8,4 2.7,5.5 Q0.3,7.2 0,9 L5,9" fill="none" stroke="#000" stroke-width="1.05" vector-effect="non-scaling-stroke" stroke-linecap="square" stroke-linejoin="round"/>
<path transform="translate(148.50,498.50) scale(1.0000,0.8889)" d="M5,3 Q5,0 2.5,0 Q0,0 0,2.9 Q0,5.7 2.5,5.7 Q5,5.7 5,3 L5,6.3 Q5,9 2.5,9 Q0.5,9 0.2,7.4" fill="none" stroke="#000" stroke-width="1.05" vector-effect="non-scaling-stroke" stroke-linecap="square" stroke-linejoin="round"/>
<path d="M110.63,371.63 L103,383 L113.87,374.87" fill="#fff" stroke="#000" stroke-width="2.2" stroke-linejoin="round" stroke-linecap="round"/>
<rect x="109.9" y="358.8" width="31.7" height="16.8" rx="3" ry="3" fill="#fff" stroke="#000" stroke-width="1.7" style="shape-rendering:auto"/>
<path d="M113.6,372.6 L108.1,377.6" fill="none" stroke="#fff" stroke-width="0.9" />
<path transform="translate(114.50,362.50) scale(0.9524,0.8889)" d="M4.2,0 L4.2,6.8 Q4.2,9 2.1,9 Q0,9 0,6.6" fill="none" stroke="#000" stroke-width="1.05" vector-effect="non-scaling-stroke" stroke-linecap="square" stroke-linejoin="round"/>
<path transform="translate(121.50,362.50) scale(1.0000,0.8889)" d="M0.2,2 Q0.5,0 2.5,0 Q4.7,0 4.7,2.1 Q4.7,4.2 2.2,4.2 Q5,4.2 5,6.6 Q5,9 2.5,9 Q0.4,9 0,7" fill="none" stroke="#000" stroke-width="1.05" vector-effect="non-scaling-stroke" stroke-linecap="square" stroke-linejoin="round"/>
<path transform="translate(129.50,362.50) scale(0.9259,0.8889)" d="M4,9 L4,0 L0,6.4 L5.4,6.4" fill="none" stroke="#000" stroke-width="1.05" vector-effect="non-scaling-stroke" stroke-linecap="square" stroke-linejoin="round"/>
<path d="M132,392 L211,392 L211,471 L130,471 L130,394 Z" fill="#000" stroke="none" stroke-width="1" />
<rect x="133" y="395" width="3" height="3" fill="#fff" />
<circle cx="134.75" cy="402.37" r="1.75" fill="#fff"/>
<circle cx="134.75" cy="408.24" r="1.75" fill="#fff"/>
<rect x="133" y="413" width="3" height="3" fill="#fff" />
<circle cx="134.75" cy="419.98" r="1.75" fill="#fff"/>
<circle cx="134.75" cy="425.85" r="1.75" fill="#fff"/>
<rect x="133" y="430" width="3" height="3" fill="#fff" />
<circle cx="134.75" cy="437.59" r="1.75" fill="#fff"/>
<circle cx="134.75" cy="443.46" r="1.75" fill="#fff"/>
<rect x="133" y="448" width="3" height="3" fill="#fff" />
<circle cx="134.75" cy="455.2" r="1.75" fill="#fff"/>
<circle cx="134.75" cy="461.07" r="1.75" fill="#fff"/>
<rect x="133" y="465" width="3" height="3" fill="#fff" />
<circle cx="140.69" cy="396.5" r="1.75" fill="#fff"/>
<circle cx="140.69" cy="402.37" r="1.75" fill="#fff"/>
<rect x="139" y="407" width="3" height="3" fill="#fff" />
<circle cx="140.69" cy="414.11" r="1.75" fill="#fff"/>
<circle cx="140.69" cy="419.98" r="1.75" fill="#fff"/>
<rect x="139" y="424" width="3" height="3" fill="#fff" />
<circle cx="140.69" cy="431.72" r="1.75" fill="#fff"/>
<circle cx="140.69" cy="437.59" r="1.75" fill="#fff"/>
<rect x="139" y="442" width="3" height="3" fill="#fff" />
<circle cx="140.69" cy="449.33" r="1.75" fill="#fff"/>
<circle cx="140.69" cy="455.2" r="1.75" fill="#fff"/>
<rect x="139" y="460" width="3" height="3" fill="#fff" />
<circle cx="140.69" cy="466.94" r="1.75" fill="#fff"/>
<circle cx="146.63" cy="396.5" r="1.75" fill="#fff"/>
<rect x="145" y="401" width="3" height="3" fill="#fff" />
<circle cx="146.63" cy="408.24" r="1.75" fill="#fff"/>
<circle cx="146.63" cy="414.11" r="1.75" fill="#fff"/>
<rect x="145" y="418" width="3" height="3" fill="#fff" />
<circle cx="146.63" cy="425.85" r="1.75" fill="#fff"/>
<circle cx="146.63" cy="431.72" r="1.75" fill="#fff"/>
<rect x="145" y="436" width="3" height="3" fill="#fff" />
<circle cx="146.63" cy="443.46" r="1.75" fill="#fff"/>
<circle cx="146.63" cy="449.33" r="1.75" fill="#fff"/>
<rect x="145" y="454" width="3" height="3" fill="#fff" />
<circle cx="146.63" cy="461.07" r="1.75" fill="#fff"/>
<circle cx="146.63" cy="466.94" r="1.75" fill="#fff"/>
<rect x="151" y="395" width="3" height="3" fill="#fff" />
<circle cx="152.57" cy="402.37" r="1.75" fill="#fff"/>
<circle cx="152.57" cy="408.24" r="1.75" fill="#fff"/>
<circle cx="152.57" cy="455.2" r="1.75" fill="#fff"/>
<circle cx="152.57" cy="461.07" r="1.75" fill="#fff"/>
<rect x="151" y="465" width="3" height="3" fill="#fff" />
<circle cx="158.51" cy="396.5" r="1.75" fill="#fff"/>
<circle cx="158.51" cy="402.37" r="1.75" fill="#fff"/>
<rect x="157" y="407" width="3" height="3" fill="#fff" />
<circle cx="158.51" cy="455.2" r="1.75" fill="#fff"/>
<rect x="157" y="460" width="3" height="3" fill="#fff" />
<circle cx="158.51" cy="466.94" r="1.75" fill="#fff"/>
<circle cx="164.45" cy="396.5" r="1.75" fill="#fff"/>
<rect x="163" y="401" width="3" height="3" fill="#fff" />
<circle cx="164.45" cy="408.24" r="1.75" fill="#fff"/>
<rect x="163" y="454" width="3" height="3" fill="#fff" />
<circle cx="164.45" cy="461.07" r="1.75" fill="#fff"/>
<circle cx="164.45" cy="466.94" r="1.75" fill="#fff"/>
<rect x="169" y="395" width="3" height="3" fill="#fff" />
<circle cx="170.39" cy="402.37" r="1.75" fill="#fff"/>
<circle cx="170.39" cy="408.24" r="1.75" fill="#fff"/>
<circle cx="170.39" cy="455.2" r="1.75" fill="#fff"/>
<circle cx="170.39" cy="461.07" r="1.75" fill="#fff"/>
<rect x="169" y="465" width="3" height="3" fill="#fff" />
<circle cx="176.33" cy="396.5" r="1.75" fill="#fff"/>
<circle cx="176.33" cy="402.37" r="1.75" fill="#fff"/>
<rect x="175" y="407" width="3" height="3" fill="#fff" />
<circle cx="176.33" cy="455.2" r="1.75" fill="#fff"/>
<rect x="175" y="460" width="3" height="3" fill="#fff" />
<circle cx="176.33" cy="466.94" r="1.75" fill="#fff"/>
<circle cx="182.27" cy="396.5" r="1.75" fill="#fff"/>
<rect x="181" y="401" width="3" height="3" fill="#fff" />
<circle cx="182.27" cy="408.24" r="1.75" fill="#fff"/>
<rect x="181" y="454" width="3" height="3" fill="#fff" />
<circle cx="182.27" cy="461.07" r="1.75" fill="#fff"/>
<circle cx="182.27" cy="466.94" r="1.75" fill="#fff"/>
<rect x="187" y="395" width="3" height="3" fill="#fff" />
<circle cx="188.21" cy="402.37" r="1.75" fill="#fff"/>
<circle cx="188.21" cy="408.24" r="1.75" fill="#fff"/>
<circle cx="188.21" cy="455.2" r="1.75" fill="#fff"/>
<circle cx="188.21" cy="461.07" r="1.75" fill="#fff"/>
<rect x="187" y="465" width="3" height="3" fill="#fff" />
<circle cx="194.15" cy="396.5" r="1.75" fill="#fff"/>
<circle cx="194.15" cy="402.37" r="1.75" fill="#fff"/>
<rect x="193" y="407" width="3" height="3" fill="#fff" />
<circle cx="194.15" cy="414.11" r="1.75" fill="#fff"/>
<circle cx="194.15" cy="419.98" r="1.75" fill="#fff"/>
<rect x="193" y="424" width="3" height="3" fill="#fff" />
<circle cx="194.15" cy="431.72" r="1.75" fill="#fff"/>
<circle cx="194.15" cy="437.59" r="1.75" fill="#fff"/>
<rect x="193" y="442" width="3" height="3" fill="#fff" />
<circle cx="194.15" cy="449.33" r="1.75" fill="#fff"/>
<circle cx="194.15" cy="455.2" r="1.75" fill="#fff"/>
<rect x="193" y="460" width="3" height="3" fill="#fff" />
<circle cx="194.15" cy="466.94" r="1.75" fill="#fff"/>
<circle cx="200.09" cy="396.5" r="1.75" fill="#fff"/>
<rect x="199" y="401" width="3" height="3" fill="#fff" />
<circle cx="200.09" cy="408.24" r="1.75" fill="#fff"/>
<circle cx="200.09" cy="414.11" r="1.75" fill="#fff"/>
<rect x="199" y="418" width="3" height="3" fill="#fff" />
<circle cx="200.09" cy="425.85" r="1.75" fill="#fff"/>
<circle cx="200.09" cy="431.72" r="1.75" fill="#fff"/>
<rect x="199" y="436" width="3" height="3" fill="#fff" />
<circle cx="200.09" cy="443.46" r="1.75" fill="#fff"/>
<circle cx="200.09" cy="449.33" r="1.75" fill="#fff"/>
<rect x="199" y="454" width="3" height="3" fill="#fff" />
<circle cx="200.09" cy="461.07" r="1.75" fill="#fff"/>
<circle cx="200.09" cy="466.94" r="1.75" fill="#fff"/>
<rect x="205" y="395" width="3" height="3" fill="#fff" />
<circle cx="206.03" cy="402.37" r="1.75" fill="#fff"/>
<circle cx="206.03" cy="408.24" r="1.75" fill="#fff"/>
<rect x="205" y="413" width="3" height="3" fill="#fff" />
<circle cx="206.03" cy="419.98" r="1.75" fill="#fff"/>
<circle cx="206.03" cy="425.85" r="1.75" fill="#fff"/>
<rect x="205" y="430" width="3" height="3" fill="#fff" />
<circle cx="206.03" cy="437.59" r="1.75" fill="#fff"/>
<circle cx="206.03" cy="443.46" r="1.75" fill="#fff"/>
<rect x="205" y="448" width="3" height="3" fill="#fff" />
<circle cx="206.03" cy="455.2" r="1.75" fill="#fff"/>
<circle cx="206.03" cy="461.07" r="1.75" fill="#fff"/>
<rect x="205" y="465" width="3" height="3" fill="#fff" />
<rect x="153" y="414" width="35" height="35" fill="#fff" />
<circle cx="157" cy="417.7" r="2.4" fill="#000"/>
<rect x="155.3" y="423" width="30.4" height="16.7" rx="3.5" ry="3.5" fill="#fff" stroke="#000" stroke-width="2.1" style="shape-rendering:auto"/>
<path transform="translate(159.50,425.50) scale(1.0909,0.8889)" d="M0,9 L0,0 L5.5,9 L5.5,0" fill="none" stroke="#000" stroke-width="1.05" vector-effect="non-scaling-stroke" stroke-linecap="square" stroke-linejoin="round"/>
<path transform="translate(168.50,425.50) scale(1.0000,0.8889)" d="M0,9 L0,0 L2.8,0 Q5,0 5,2.4 Q5,4.8 2.8,4.8 L0,4.8" fill="none" stroke="#000" stroke-width="1.05" vector-effect="non-scaling-stroke" stroke-linecap="square" stroke-linejoin="round"/>
<path transform="translate(177.50,425.50) scale(1.0000,0.8889)" d="M0,0 L0,6.2 Q0,9 3,9 Q6,9 6,6.2 L6,0" fill="none" stroke="#000" stroke-width="1.05" vector-effect="non-scaling-stroke" stroke-linecap="square" stroke-linejoin="round"/>
<path d="M260,395 L335,395 L335,471 L266,471 L260,464 Z" fill="#000" stroke="none" stroke-width="1" />
<circle cx="267.3" cy="462.5" r="3.4" fill="#fff"/>
<rect x="284" y="426" width="28" height="14" fill="#fff" />
<path transform="translate(285.50,427.50) scale(0.8621,0.8889)" d="M5.8,2.4 Q5.4,0 3,0 Q0,0 0,4.5 Q0,9 3,9 Q5.4,9 5.8,6.6" fill="none" stroke="#000" stroke-width="1.05" vector-effect="non-scaling-stroke" stroke-linecap="square" stroke-linejoin="round"/>
<path transform="translate(295.50,427.50) scale(1.0000,0.8889)" d="M0,9 L0,0 L2.8,0 Q5,0 5,2.4 Q5,4.8 2.8,4.8 L0,4.8" fill="none" stroke="#000" stroke-width="1.05" vector-effect="non-scaling-stroke" stroke-linecap="square" stroke-linejoin="round"/>
<path transform="translate(304.50,427.50) scale(1.0000,0.8889)" d="M0,0 L0,6.2 Q0,9 3,9 Q6,9 6,6.2 L6,0" fill="none" stroke="#000" stroke-width="1.05" vector-effect="non-scaling-stroke" stroke-linecap="square" stroke-linejoin="round"/>
<rect x="586" y="369" width="126" height="43" fill="#000" />
<rect x="588" y="409" width="4" height="1" fill="#fff" />
<rect x="594" y="409" width="4" height="1" fill="#fff" />
<rect x="600" y="409" width="4" height="1" fill="#fff" />
<rect x="606" y="409" width="4" height="1" fill="#fff" />
<rect x="612" y="409" width="4" height="1" fill="#fff" />
<rect x="618" y="409" width="4" height="1" fill="#fff" />
<rect x="624" y="409" width="4" height="1" fill="#fff" />
<rect x="630" y="409" width="4" height="1" fill="#fff" />
<rect x="636" y="409" width="4" height="1" fill="#fff" />
<rect x="642" y="409" width="4" height="1" fill="#fff" />
<rect x="648" y="409" width="4" height="1" fill="#fff" />
<rect x="654" y="409" width="4" height="1" fill="#fff" />
<rect x="660" y="409" width="4" height="1" fill="#fff" />
<rect x="666" y="409" width="4" height="1" fill="#fff" />
<rect x="672" y="409" width="4" height="1" fill="#fff" />
<rect x="678" y="409" width="4" height="1" fill="#fff" />
<rect x="684" y="409" width="4" height="1" fill="#fff" />
<rect x="690" y="409" width="4" height="1" fill="#fff" />
<rect x="696" y="409" width="4" height="1" fill="#fff" />
<rect x="702" y="409" width="4" height="1" fill="#fff" />
<rect x="708" y="409" width="4" height="1" fill="#fff" />
<rect x="714" y="409" width="4" height="1" fill="#fff" />
<ellipse cx="712.5" cy="390" rx="3" ry="6.5" fill="#fff"/>
<rect x="635" y="383" width="28" height="14" fill="#fff" />
<path transform="translate(637.50,384.50) scale(0.8333,0.8889)" d="M0,0 L0,9 M5.6,0 L0,5.6 M2.2,3.7 L6,9" fill="none" stroke="#000" stroke-width="1.05" vector-effect="non-scaling-stroke" stroke-linecap="square" stroke-linejoin="round"/>
<path transform="translate(647.50,384.50) scale(0.7692,0.8889)" d="M0,0 L0,9 L2.8,9 Q5.2,9 5.2,6.6 Q5.2,4.3 2.8,4.3 L0,4.3 M2.8,4.3 Q4.8,4.3 4.8,2.15 Q4.8,0 2.8,0 L0,0" fill="none" stroke="#000" stroke-width="1.05" vector-effect="non-scaling-stroke" stroke-linecap="square" stroke-linejoin="round"/>
<path transform="translate(655.50,384.50) scale(0.9259,0.8889)" d="M0,0 L0,9 L2.2,9 Q5.4,9 5.4,4.5 Q5.4,0 2.2,0 Z" fill="none" stroke="#000" stroke-width="1.05" vector-effect="non-scaling-stroke" stroke-linecap="square" stroke-linejoin="round"/>
<rect x="498" y="467" width="88" height="41" fill="#000" />
<path d="M586,480.5 L584.5,481.5 L584,483 L584,494 L586,494 Z" fill="#fff" stroke="none" stroke-width="1" />
<rect x="522" y="480" width="40" height="14" fill="#fff" />
<path transform="translate(528.50,482.50) scale(0.9615,0.8889)" d="M0,0 L0,9 L2.8,9 Q5.2,9 5.2,6.6 Q5.2,4.3 2.8,4.3 L0,4.3 M2.8,4.3 Q4.8,4.3 4.8,2.15 Q4.8,0 2.8,0 L0,0" fill="none" stroke="#000" stroke-width="1.05" vector-effect="non-scaling-stroke" stroke-linecap="square" stroke-linejoin="round"/>
<path transform="translate(537.50,482.50) scale(1.0000,0.8889)" d="M0.3,0 L0.3,9" fill="none" stroke="#000" stroke-width="1.05" vector-effect="non-scaling-stroke" stroke-linecap="square" stroke-linejoin="round"/>
<path transform="translate(540.50,482.50) scale(1.1667,0.8889)" d="M3,0 Q6,0 6,4.5 Q6,9 3,9 Q0,9 0,4.5 Q0,0 3,0 Z" fill="none" stroke="#000" stroke-width="1.05" vector-effect="non-scaling-stroke" stroke-linecap="square" stroke-linejoin="round"/>
<path transform="translate(550.50,482.50) scale(0.9259,0.8889)" d="M5,2 Q4.7,0 2.7,0 Q0.3,0 0.3,2.2 Q0.3,4 2.7,4.4 Q5.4,4.9 5.4,6.8 Q5.4,9 2.7,9 Q0.3,9 0,7" fill="none" stroke="#000" stroke-width="1.05" vector-effect="non-scaling-stroke" stroke-linecap="square" stroke-linejoin="round"/>
<rect x="524" y="398" width="19" height="7" fill="#000" />
<rect x="525" y="399" width="17" height="1" fill="#fff" />
<rect x="541" y="399" width="1" height="5" fill="#fff" />
<rect x="529" y="400" width="1" height="4" fill="#fff" />
<rect x="535" y="400" width="1" height="4" fill="#fff" />
<rect x="537" y="400" width="3" height="4" fill="#fff" />
<rect x="538" y="401" width="1" height="2" fill="#000" />
<rect x="551" y="398" width="19" height="7" fill="#000" />
<rect x="552" y="399" width="17" height="1" fill="#fff" />
<rect x="568" y="399" width="1" height="5" fill="#fff" />
<rect x="556" y="400" width="1" height="4" fill="#fff" />
<rect x="562" y="400" width="1" height="4" fill="#fff" />
<rect x="564" y="400" width="3" height="4" fill="#fff" />
<rect x="565" y="401" width="1" height="2" fill="#000" />
<path d="M521.70,414.56 L532,407 L525.30,417.44" fill="#fff" stroke="#000" stroke-width="2.2" stroke-linejoin="round" stroke-linecap="round"/>
<rect x="492" y="413" width="35" height="19" rx="4" ry="4" fill="#000" style="shape-rendering:auto"/>
<rect x="494.3" y="414.7" width="30.7" height="15" rx="2" ry="2" fill="#fff" style="shape-rendering:auto"/>
<path d="M522.1,416.6 L527.3,411.9" fill="none" stroke="#fff" stroke-width="0.9" />
<path transform="translate(497.50,417.50) scale(0.9524,0.8889)" d="M4.2,0 L4.2,6.8 Q4.2,9 2.1,9 Q0,9 0,6.6" fill="none" stroke="#000" stroke-width="1.05" vector-effect="non-scaling-stroke" stroke-linecap="square" stroke-linejoin="round"/>
<path transform="translate(504.50,417.50) scale(1.0000,0.8889)" d="M0.2,2 Q0.5,0 2.5,0 Q4.7,0 4.7,2.1 Q4.7,4.2 2.2,4.2 Q5,4.2 5,6.6 Q5,9 2.5,9 Q0.4,9 0,7" fill="none" stroke="#000" stroke-width="1.05" vector-effect="non-scaling-stroke" stroke-linecap="square" stroke-linejoin="round"/>
<path transform="translate(512.50,417.50) scale(1.0000,0.8889)" d="M0.2,2.4 Q0.4,0 2.5,0 Q4.8,0 4.8,2.3 Q4.8,4 2.7,5.5 Q0.3,7.2 0,9 L5,9" fill="none" stroke="#000" stroke-width="1.05" vector-effect="non-scaling-stroke" stroke-linecap="square" stroke-linejoin="round"/>
<path d="M567.70,417.30 L559.5,407.5 L571.30,413.70" fill="#fff" stroke="#000" stroke-width="2.2" stroke-linejoin="round" stroke-linecap="round"/>
<rect x="566" y="412" width="33" height="19" rx="4" ry="4" fill="#000" style="shape-rendering:auto"/>
<rect x="568.3" y="413.7" width="28.7" height="15" rx="2" ry="2" fill="#fff" style="shape-rendering:auto"/>
<path d="M570.9,416.1 L565.0,411.9" fill="none" stroke="#fff" stroke-width="0.9" />
<path transform="translate(571.50,416.50) scale(0.9524,0.8889)" d="M4.2,0 L4.2,6.8 Q4.2,9 2.1,9 Q0,9 0,6.6" fill="none" stroke="#000" stroke-width="1.05" vector-effect="non-scaling-stroke" stroke-linecap="square" stroke-linejoin="round"/>
<path transform="translate(578.50,416.50) scale(1.0000,0.8889)" d="M0.2,2 Q0.5,0 2.5,0 Q4.7,0 4.7,2.1 Q4.7,4.2 2.2,4.2 Q5,4.2 5,6.6 Q5,9 2.5,9 Q0.4,9 0,7" fill="none" stroke="#000" stroke-width="1.05" vector-effect="non-scaling-stroke" stroke-linecap="square" stroke-linejoin="round"/>
<path transform="translate(586.50,416.50) scale(0.9375,0.8889)" d="M0,2.2 L1.6,2.0 Q3.2,1.6 3.2,0 L3.2,9" fill="none" stroke="#000" stroke-width="1.05" vector-effect="non-scaling-stroke" stroke-linecap="square" stroke-linejoin="round"/>
<path d="M768.20,247.00 L770,263 L771.80,247.00" fill="#fff" stroke="#000" stroke-width="2.2" stroke-linejoin="round" stroke-linecap="round"/>
<rect x="754" y="229" width="34" height="19" rx="4" ry="4" fill="#000" style="shape-rendering:auto"/>
<rect x="756.3" y="230.7" width="29.7" height="15" rx="2" ry="2" fill="#fff" style="shape-rendering:auto"/>
<path d="M770.2,245.5 L770.0,254.2" fill="none" stroke="#fff" stroke-width="0.9" />
<path transform="translate(758.50,233.50) scale(0.9524,0.8889)" d="M4.2,0 L4.2,6.8 Q4.2,9 2.1,9 Q0,9 0,6.6" fill="none" stroke="#000" stroke-width="1.05" vector-effect="non-scaling-stroke" stroke-linecap="square" stroke-linejoin="round"/>
<path transform="translate(764.50,233.50) scale(1.0000,0.8889)" d="M0,9 L0,0 L2.8,0 Q5,0 5,2.4 Q5,4.8 2.8,4.8 L0,4.8" fill="none" stroke="#000" stroke-width="1.05" vector-effect="non-scaling-stroke" stroke-linecap="square" stroke-linejoin="round"/>
<path transform="translate(773.50,233.50) scale(1.0000,0.8889)" d="M0.2,2.4 Q0.4,0 2.5,0 Q4.8,0 4.8,2.3 Q4.8,4 2.7,5.5 Q0.3,7.2 0,9 L5,9" fill="none" stroke="#000" stroke-width="1.05" vector-effect="non-scaling-stroke" stroke-linecap="square" stroke-linejoin="round"/>
<rect x="757" y="265" width="25" height="7" fill="#000" />
<rect x="762" y="266" width="1" height="5" fill="#fff" />
<rect x="768" y="266" width="2" height="5" fill="#fff" />
<rect x="774" y="266" width="2" height="5" fill="#fff" />
<rect x="776" y="266" width="3" height="5" fill="#fff" />
<rect x="777" y="267" width="2" height="3" fill="#000" />
<rect x="780" y="266" width="1" height="5" fill="#fff" />
<rect x="763" y="277" width="19" height="7" fill="#000" />
<rect x="764" y="282" width="17" height="1" fill="#fff" />
<rect x="769" y="278" width="1" height="4" fill="#fff" />
<rect x="775" y="278" width="1" height="4" fill="#fff" />
<rect x="776" y="278" width="5" height="4" fill="#fff" />
<rect x="777" y="279" width="2" height="2" fill="#000" />
<rect x="764" y="278" width="1" height="4" fill="#fff" />
<path d="M771.34,302.00 L773,286 L775.66,302.00" fill="#fff" stroke="#000" stroke-width="2.2" stroke-linejoin="round" stroke-linecap="round"/>
<rect x="757" y="301" width="34" height="19" rx="4" ry="4" fill="#000" style="shape-rendering:auto"/>
<rect x="759.3" y="302.7" width="29.7" height="15" rx="2" ry="2" fill="#fff" style="shape-rendering:auto"/>
<path d="M773.6,303.5 L773.3,294.8" fill="none" stroke="#fff" stroke-width="0.9" />
<path transform="translate(761.50,305.50) scale(0.9524,0.8889)" d="M4.2,0 L4.2,6.8 Q4.2,9 2.1,9 Q0,9 0,6.6" fill="none" stroke="#000" stroke-width="1.05" vector-effect="non-scaling-stroke" stroke-linecap="square" stroke-linejoin="round"/>
<path transform="translate(767.50,305.50) scale(0.9259,0.8889)" d="M4,9 L4,0 L0,6.4 L5.4,6.4" fill="none" stroke="#000" stroke-width="1.05" vector-effect="non-scaling-stroke" stroke-linecap="square" stroke-linejoin="round"/>
<path transform="translate(775.50,305.50) scale(1.0000,0.8889)" d="M0.2,2.4 Q0.4,0 2.5,0 Q4.8,0 4.8,2.3 Q4.8,4 2.7,5.5 Q0.3,7.2 0,9 L5,9" fill="none" stroke="#000" stroke-width="1.05" vector-effect="non-scaling-stroke" stroke-linecap="square" stroke-linejoin="round"/>
<path d="M760,366.5 L783,366.5 L785.5,369 L785.5,376 L783.5,378 L783.5,384 L785.5,386 L785.5,388 L783.5,390 L783.5,396 L785.5,398 L785.5,404 L783,406.5 L760,406.5 L758.5,404 L758.5,398 L759.5,396 L759.5,390 L757.5,388 L757.5,386 L759.5,384 L759.5,378 L758.5,376 L758.5,369 Z" fill="url(#dots)" stroke="#000" stroke-width="1"/>
<path d="M763,425 L787,425 L787,421 L789,419 L793,419 L793,469 L789,469 L787,467 L787,462 L763,462 Z" fill="#000" stroke="none" stroke-width="1" />
<rect x="756.5" y="434.5" width="4" height="8" fill="#fff" stroke="#000" stroke-width="1"/>
<rect x="756.5" y="445.5" width="4" height="8" fill="#fff" stroke="#000" stroke-width="1"/>
<rect x="760.5" y="432.5" width="3" height="23" fill="#fff" stroke="#000" stroke-width="1"/>
<rect x="760" y="443" width="2" height="2" fill="#000" />
<rect x="608.5" y="485.5" width="112" height="24" fill="#fff" stroke="#000" stroke-width="1"/>
<rect x="608" y="494" width="113" height="1" fill="#000" />
<rect x="610.5" y="489.5" width="5" height="2" rx="1" fill="#fff" stroke="#000" stroke-width="1"/>
<rect x="612" y="492" width="2" height="2" fill="#000" />
<rect x="610" y="496" width="6" height="2" fill="#000" />
<rect x="614.5" y="499.5" width="5" height="7" fill="#fff" stroke="#000" stroke-width="1"/>
<rect x="620.5" y="489.5" width="5" height="2" rx="1" fill="#fff" stroke="#000" stroke-width="1"/>
<rect x="622" y="492" width="2" height="2" fill="#000" />
<rect x="620" y="496" width="6" height="2" fill="#000" />
<rect x="624.5" y="499.5" width="5" height="7" fill="#fff" stroke="#000" stroke-width="1"/>
<rect x="629.5" y="489.5" width="5" height="2" rx="1" fill="#fff" stroke="#000" stroke-width="1"/>
<rect x="631" y="492" width="2" height="2" fill="#000" />
<rect x="629" y="496" width="6" height="2" fill="#000" />
<rect x="633.5" y="499.5" width="5" height="7" fill="#fff" stroke="#000" stroke-width="1"/>
<rect x="638.5" y="489.5" width="5" height="2" rx="1" fill="#fff" stroke="#000" stroke-width="1"/>
<rect x="640" y="492" width="2" height="2" fill="#000" />
<rect x="638" y="496" width="6" height="2" fill="#000" />
<rect x="642.5" y="499.5" width="5" height="7" fill="#fff" stroke="#000" stroke-width="1"/>
<rect x="647.5" y="489.5" width="5" height="2" rx="1" fill="#fff" stroke="#000" stroke-width="1"/>
<rect x="649" y="492" width="2" height="2" fill="#000" />
<rect x="647" y="496" width="6" height="2" fill="#000" />
<rect x="651.5" y="499.5" width="5" height="7" fill="#fff" stroke="#000" stroke-width="1"/>
<rect x="657.5" y="489.5" width="5" height="2" rx="1" fill="#fff" stroke="#000" stroke-width="1"/>
<rect x="659" y="492" width="2" height="2" fill="#000" />
<rect x="657" y="496" width="6" height="2" fill="#000" />
<rect x="661.5" y="499.5" width="5" height="7" fill="#fff" stroke="#000" stroke-width="1"/>
<rect x="666.5" y="489.5" width="5" height="2" rx="1" fill="#fff" stroke="#000" stroke-width="1"/>
<rect x="668" y="492" width="2" height="2" fill="#000" />
<rect x="666" y="496" width="6" height="2" fill="#000" />
<rect x="670.5" y="499.5" width="5" height="7" fill="#fff" stroke="#000" stroke-width="1"/>
<rect x="675.5" y="489.5" width="5" height="2" rx="1" fill="#fff" stroke="#000" stroke-width="1"/>
<rect x="677" y="492" width="2" height="2" fill="#000" />
<rect x="675" y="496" width="6" height="2" fill="#000" />
<rect x="679.5" y="499.5" width="5" height="7" fill="#fff" stroke="#000" stroke-width="1"/>
<rect x="685.5" y="489.5" width="5" height="2" rx="1" fill="#fff" stroke="#000" stroke-width="1"/>
<rect x="687" y="492" width="2" height="2" fill="#000" />
<rect x="685" y="496" width="6" height="2" fill="#000" />
<rect x="689.5" y="499.5" width="5" height="7" fill="#fff" stroke="#000" stroke-width="1"/>
<rect x="694.5" y="489.5" width="5" height="2" rx="1" fill="#fff" stroke="#000" stroke-width="1"/>
<rect x="696" y="492" width="2" height="2" fill="#000" />
<rect x="694" y="496" width="6" height="2" fill="#000" />
<rect x="698.5" y="499.5" width="5" height="7" fill="#fff" stroke="#000" stroke-width="1"/>
<rect x="703.5" y="489.5" width="5" height="2" rx="1" fill="#fff" stroke="#000" stroke-width="1"/>
<rect x="705" y="492" width="2" height="2" fill="#000" />
<rect x="703" y="496" width="6" height="2" fill="#000" />
<rect x="707.5" y="499.5" width="5" height="7" fill="#fff" stroke="#000" stroke-width="1"/>
<rect x="712.5" y="489.5" width="5" height="2" rx="1" fill="#fff" stroke="#000" stroke-width="1"/>
<rect x="714" y="492" width="2" height="2" fill="#000" />
<rect x="712" y="496" width="6" height="2" fill="#000" />
<rect x="716.5" y="499.5" width="5" height="7" fill="#fff" stroke="#000" stroke-width="1"/>
<rect x="608" y="499" width="3" height="2" fill="#000" />
<rect x="608" y="505" width="3" height="2" fill="#000" />
<rect x="727" y="488" width="14" height="7" fill="#000" />
<rect x="728" y="493" width="12" height="1" fill="#fff" />
<rect x="733" y="489" width="1" height="4" fill="#fff" />
<rect x="727" y="501" width="14" height="7" fill="#000" />
<rect x="728" y="502" width="11" height="5" fill="#fff" />
<rect x="729" y="502" width="3" height="5" fill="#000" />
<rect x="734" y="502" width="3" height="5" fill="#000" />
<rect x="777" y="498" width="14" height="7" fill="#000" />
<rect x="778" y="503" width="12" height="1" fill="#fff" />
<rect x="783" y="499" width="1" height="4" fill="#fff" />
<path d="M709.00,502.34 L725,504.5 L709.00,506.66" fill="#fff" stroke="#000" stroke-width="2.2" stroke-linejoin="round" stroke-linecap="round"/>
<rect x="674.5" y="495" width="35" height="18.3" rx="4" ry="4" fill="#000" style="shape-rendering:auto"/>
<rect x="676.8" y="496.7" width="30.7" height="14.3" rx="2" ry="2" fill="#fff" style="shape-rendering:auto"/>
<path d="M707.5,504.5 L716.2,504.5" fill="none" stroke="#fff" stroke-width="0.9" />
<path transform="translate(681.50,499.50) scale(0.9524,0.8889)" d="M4.2,0 L4.2,6.8 Q4.2,9 2.1,9 Q0,9 0,6.6" fill="none" stroke="#000" stroke-width="1.05" vector-effect="non-scaling-stroke" stroke-linecap="square" stroke-linejoin="round"/>
<path transform="translate(688.50,499.50) scale(1.0000,0.8889)" d="M0.2,2.4 Q0.4,0 2.5,0 Q4.8,0 4.8,2.3 Q4.8,4 2.7,5.5 Q0.3,7.2 0,9 L5,9" fill="none" stroke="#000" stroke-width="1.05" vector-effect="non-scaling-stroke" stroke-linecap="square" stroke-linejoin="round"/>
<path transform="translate(696.50,499.50) scale(0.9375,0.8889)" d="M0,2.2 L1.6,2.0 Q3.2,1.6 3.2,0 L3.2,9" fill="none" stroke="#000" stroke-width="1.05" vector-effect="non-scaling-stroke" stroke-linecap="square" stroke-linejoin="round"/>
<path d="M721.70,477.44 L733,487 L725.30,474.56" fill="#fff" stroke="#000" stroke-width="2.2" stroke-linejoin="round" stroke-linecap="round"/>
<rect x="693.9" y="462.8" width="31.7" height="15.6" rx="2.5" ry="2.5" fill="#fff" stroke="#000" stroke-width="1.4" style="shape-rendering:auto"/>
<path d="M722.1,475.5 L727.8,480.9" fill="none" stroke="#fff" stroke-width="0.9" />
<path transform="translate(698.50,465.50) scale(0.9524,0.8889)" d="M4.2,0 L4.2,6.8 Q4.2,9 2.1,9 Q0,9 0,6.6" fill="none" stroke="#000" stroke-width="1.05" vector-effect="non-scaling-stroke" stroke-linecap="square" stroke-linejoin="round"/>
<path transform="translate(705.50,465.50) scale(1.0000,0.8889)" d="M0.2,2.4 Q0.4,0 2.5,0 Q4.8,0 4.8,2.3 Q4.8,4 2.7,5.5 Q0.3,7.2 0,9 L5,9" fill="none" stroke="#000" stroke-width="1.05" vector-effect="non-scaling-stroke" stroke-linecap="square" stroke-linejoin="round"/>
<path transform="translate(713.50,465.50) scale(1.0000,0.8889)" d="M0.2,2 Q0.5,0 2.5,0 Q4.7,0 4.7,2.1 Q4.7,4.2 2.2,4.2 Q5,4.2 5,6.6 Q5,9 2.5,9 Q0.4,9 0,7" fill="none" stroke="#000" stroke-width="1.05" vector-effect="non-scaling-stroke" stroke-linecap="square" stroke-linejoin="round"/>
<path d="M772.70,489.44 L784,497 L776.30,486.56" fill="#fff" stroke="#000" stroke-width="2.2" stroke-linejoin="round" stroke-linecap="round"/>
<rect x="743" y="472" width="35" height="19" rx="4" ry="4" fill="#000" style="shape-rendering:auto"/>
<rect x="745.3" y="473.7" width="30.7" height="15" rx="2" ry="2" fill="#fff" style="shape-rendering:auto"/>
<path d="M773.1,487.4 L778.8,492.1" fill="none" stroke="#fff" stroke-width="0.9" />
<path transform="translate(748.50,476.50) scale(0.9524,0.8889)" d="M4.2,0 L4.2,6.8 Q4.2,9 2.1,9 Q0,9 0,6.6" fill="none" stroke="#000" stroke-width="1.05" vector-effect="non-scaling-stroke" stroke-linecap="square" stroke-linejoin="round"/>
<path transform="translate(755.50,476.50) scale(1.0000,0.8889)" d="M0.2,2.4 Q0.4,0 2.5,0 Q4.8,0 4.8,2.3 Q4.8,4 2.7,5.5 Q0.3,7.2 0,9 L5,9" fill="none" stroke="#000" stroke-width="1.05" vector-effect="non-scaling-stroke" stroke-linecap="square" stroke-linejoin="round"/>
<path transform="translate(763.50,476.50) scale(1.0000,0.8889)" d="M0.2,2.4 Q0.4,0 2.5,0 Q4.8,0 4.8,2.3 Q4.8,4 2.7,5.5 Q0.3,7.2 0,9 L5,9" fill="none" stroke="#000" stroke-width="1.05" vector-effect="non-scaling-stroke" stroke-linecap="square" stroke-linejoin="round"/>
</svg>
</body></html>
